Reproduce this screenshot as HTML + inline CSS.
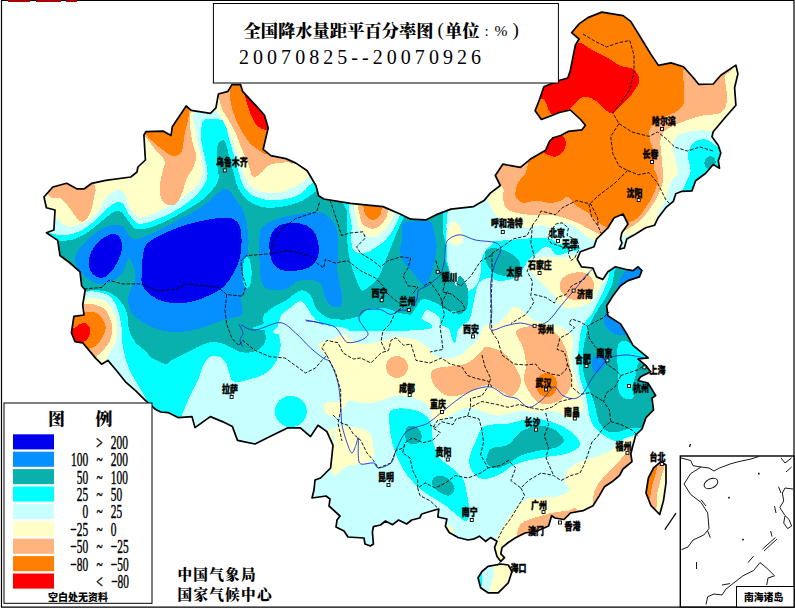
<!DOCTYPE html>
<html><head><meta charset="utf-8"><title>全国降水量距平百分率图</title>
<style>
html,body{margin:0;padding:0;background:#fff}
body{width:795px;height:610px;overflow:hidden;position:relative}
svg{position:absolute;left:0;top:0;display:block}
text{font-family:"Liberation Serif","Noto Serif CJK SC",serif;fill:#000}
.city{font-size:8.8px;font-weight:900;font-family:"Liberation Sans","Noto Sans CJK SC",sans-serif;stroke:#000;stroke-width:.35px}
.t1{font-size:17.3px;font-weight:900}
.t2{font-size:20px}
.lg{font-size:19px;stroke:#000;stroke-width:.45px}
.org{font-size:14.6px;font-weight:900}
</style></head><body>
<svg width="795" height="610" viewBox="0 0 795 610">
<rect x="0" y="0" width="795" height="610" fill="#fff"/>
<defs><clipPath id="cn"><path d="M44.0,197.0 L52.8,187.0 L66.7,183.3 L76.7,188.8 L84.3,188.8 L91.8,183.3 L105.7,180.3 L130.8,177.0 L137.0,172.0 L137.9,167.0 L145.4,160.0 L143.9,135.0 L145.9,131.7 L163.5,131.2 L171.0,135.5 L172.3,126.7 L186.2,106.0 L191.2,110.3 L210.4,113.3 L215.9,107.8 L218.4,94.0 L228.0,91.4 L231.8,84.7 L240.6,84.7 L242.6,91.4 L255.7,105.3 L264.5,115.3 L268.2,127.9 L263.2,149.3 L270.8,155.6 L285.8,158.6 L295.9,163.1 L307.2,170.7 L316.0,185.8 L318.6,195.8 L323.9,199.0 L350.3,203.3 L383.0,206.6 L400.6,214.2 L410.7,219.2 L425.8,219.9 L435.8,214.9 L450.9,209.1 L473.6,206.6 L484.0,200.6 L490.3,193.1 L500.3,185.5 L495.3,175.5 L502.8,164.2 L520.4,167.4 L530.5,159.1 L545.6,150.3 L549.4,141.5 L553.1,137.7 L560.7,135.5 L568.2,131.4 L582.0,129.8 L585.4,125.2 L580.6,119.5 L570.3,110.0 L559.4,112.5 L548.0,117.0 L541.4,119.5 L535.1,110.7 L539.3,100.0 L543.9,86.8 L559.0,80.5 L567.8,78.0 L570.3,70.4 L575.3,45.3 L579.1,39.0 L571.6,32.7 L579.1,23.9 L587.9,17.6 L601.8,12.1 L623.1,15.6 L630.7,21.4 L640.8,37.7 L650.8,54.1 L658.4,65.4 L671.0,62.9 L683.5,66.7 L693.6,78.0 L698.6,84.3 L713.2,84.0 L720.8,75.2 L735.9,65.1 L737.9,73.9 L734.6,87.7 L735.9,105.3 L725.8,116.7 L713.2,131.8 L712.0,136.8 L718.3,145.6 L720.8,153.1 L718.3,160.7 L719.5,168.2 L713.2,164.5 L705.7,173.3 L695.6,180.8 L691.9,190.9 L682.0,191.3 L675.8,193.8 L673.3,201.4 L665.8,207.7 L658.2,217.7 L654.5,225.3 L645.7,227.8 L635.6,234.0 L626.8,239.0 L624.3,248.0 L619.2,249.2 L622.0,243.0 L620.5,239.0 L621.8,232.8 L628.0,224.0 L623.0,214.0 L614.2,217.7 L607.9,227.8 L596.6,239.0 L594.0,246.7 L580.3,251.7 L577.2,259.2 L581.5,266.8 L592.8,268.0 L596.6,276.9 L602.9,279.4 L607.9,271.8 L615.5,266.8 L625.5,269.3 L633.0,270.6 L638.1,266.8 L641.9,270.6 L639.4,276.9 L628.0,280.6 L620.5,285.7 L613.0,295.7 L606.7,305.8 L607.9,315.8 L620.5,323.9 L626.8,334.0 L633.0,345.3 L640.6,351.6 L648.2,357.9 L638.0,359.0 L645.7,365.4 L650.7,371.7 L640.6,376.7 L638.0,380.5 L648.0,383.0 L655.7,395.6 L652.0,398.0 L653.5,410.0 L646.0,417.6 L642.0,429.0 L635.8,435.0 L633.0,445.0 L630.8,454.0 L632.0,461.6 L623.0,469.0 L619.5,475.5 L612.0,481.8 L604.4,486.8 L599.4,495.6 L593.0,505.7 L583.0,510.7 L570.4,513.0 L564.0,519.5 L555.0,518.0 L551.6,515.7 L548.6,526.0 L537.7,530.8 L525.0,533.0 L515.0,538.0 L508.3,542.5 L502.0,547.6 L500.8,553.9 L504.5,557.6 L500.8,561.4 L497.0,556.4 L494.5,547.6 L497.0,541.3 L490.7,537.5 L485.7,541.3 L479.4,536.2 L474.3,538.8 L468.0,540.0 L458.0,537.5 L449.2,532.5 L445.4,526.2 L446.9,519.0 L437.8,517.0 L438.8,509.0 L434.8,510.0 L421.7,514.0 L419.7,518.0 L411.7,520.0 L406.6,524.0 L398.6,520.0 L392.6,524.7 L385.5,521.0 L380.5,525.0 L373.4,526.7 L372.4,532.0 L373.4,544.0 L370.4,546.0 L365.0,544.0 L364.0,538.0 L348.0,537.0 L344.0,531.0 L336.0,527.0 L337.0,520.0 L340.0,516.0 L329.0,506.0 L330.0,499.0 L326.0,496.0 L312.0,498.0 L314.0,490.0 L315.0,480.0 L320.6,478.0 L330.6,468.0 L333.0,445.4 L326.9,431.6 L318.0,425.3 L310.5,436.6 L300.4,427.8 L287.9,427.8 L270.0,436.6 L255.0,444.0 L237.5,440.4 L232.4,426.6 L222.4,421.6 L210.3,416.6 L195.0,427.6 L192.0,416.6 L178.0,417.6 L168.0,412.6 L160.7,412.0 L155.7,409.5 L145.6,400.7 L135.5,390.6 L125.5,381.8 L115.4,369.2 L107.9,360.4 L101.6,364.2 L95.3,357.9 L82.7,342.8 L75.0,341.6 L71.4,332.8 L73.9,316.4 L84.0,315.0 L82.7,305.0 L85.2,290.0 L81.6,285.7 L80.0,271.8 L70.0,263.0 L60.0,255.5 L57.7,240.4 L46.4,232.8 L53.9,230.0 L55.0,210.0 L46.4,207.7Z"/><path d="M661.0,461.6 L666.0,465.0 L666.0,483.0 L663.5,500.6 L659.7,514.5 L651.0,505.7 L646.0,493.0 L648.4,478.0 L653.5,468.0Z"/><path d="M488.0,566.4 L500.8,564.0 L508.3,565.0 L512.0,571.5 L508.3,582.8 L498.2,592.8 L488.0,592.8 L480.6,587.8 L478.0,577.8 L482.0,571.5Z"/></clipPath></defs>
<g clip-path="url(#cn)" shape-rendering="crispEdges">
<rect x="0" y="0" width="795" height="610" fill="#c8ffff"/>
<path d="M36.0,228.0 C38.9,223.0 43.6,230.8 47.4,232.0 C51.2,233.2 54.7,234.7 59.0,235.0 C63.3,235.3 68.6,235.0 73.4,233.6 C78.2,232.2 83.1,229.8 87.9,226.4 C92.7,223.0 98.0,217.2 102.3,213.4 C106.6,209.6 110.5,205.0 113.9,203.3 C117.3,201.6 120.2,201.6 122.6,203.3 C125.0,205.0 125.8,210.0 128.4,213.4 C131.1,216.8 133.7,222.5 138.5,223.5 C143.3,224.5 150.3,221.8 157.3,219.2 C164.3,216.5 173.9,211.6 180.4,207.6 C186.9,203.6 192.4,199.1 196.5,195.0 C200.6,190.9 203.2,186.8 205.1,183.2 C206.9,179.6 207.6,177.5 207.6,173.4 C207.6,169.3 206.1,164.0 205.1,158.7 C204.1,153.4 202.1,146.8 201.5,141.5 C200.9,136.2 201.2,130.1 201.5,126.7 C201.8,123.3 202.0,122.3 203.0,121.0 C204.0,119.7 205.4,119.3 207.6,119.0 C209.8,118.7 213.1,118.8 216.0,119.3 C218.9,119.8 222.7,118.9 224.8,121.8 C226.9,124.7 227.1,131.2 228.5,136.5 C229.9,141.8 231.8,147.9 233.4,153.7 C235.0,159.4 236.7,165.7 238.3,171.0 C239.9,176.3 240.8,181.6 243.2,185.7 C245.6,189.8 248.1,193.0 253.0,195.5 C257.9,198.0 265.3,200.5 272.7,200.5 C280.1,200.5 290.8,198.4 297.3,195.5 C303.9,192.6 307.9,186.4 312.0,183.2 C316.1,179.9 315.7,174.9 322.0,176.0 C328.3,177.1 337.0,186.0 350.0,190.0 C363.0,194.0 387.5,197.0 400.0,200.0 C412.5,203.0 417.2,208.0 425.0,208.0 C432.8,208.0 443.3,198.4 447.0,200.0 C450.7,201.6 446.9,211.9 447.0,217.7 C447.1,223.5 447.5,229.8 447.8,235.0 C448.1,240.2 447.0,247.3 449.0,249.0 C451.0,250.7 454.2,246.2 460.0,245.0 C465.8,243.8 475.7,242.8 484.0,242.0 C492.3,241.2 501.2,240.7 510.0,240.0 C518.8,239.3 529.8,238.2 536.5,238.0 C543.2,237.8 546.8,238.0 550.5,239.0 C554.2,240.0 554.9,243.0 558.6,244.0 C562.3,245.0 569.1,244.5 572.7,245.0 C576.3,245.5 579.0,246.2 580.0,247.0 C581.0,247.8 580.6,249.2 578.7,250.0 C576.8,250.8 572.4,251.2 568.7,252.0 C565.0,252.8 559.6,255.7 556.6,255.0 C553.6,254.3 552.5,249.3 550.5,248.0 C548.5,246.7 546.5,246.3 544.5,247.0 C542.5,247.7 541.2,249.8 538.5,252.0 C535.8,254.2 531.1,257.0 528.4,260.0 C525.7,263.0 524.8,267.0 522.4,270.0 C520.0,273.0 518.0,276.2 514.3,278.0 C510.6,279.8 504.4,281.0 500.0,281.0 C495.6,281.0 491.3,277.8 488.0,278.0 C484.7,278.2 481.9,280.3 480.0,282.0 C478.1,283.7 478.0,284.2 476.8,288.3 C475.6,292.4 474.1,301.0 472.8,306.4 C471.5,311.8 471.2,316.8 468.8,320.5 C466.4,324.2 460.9,325.0 458.7,328.5 C456.5,332.0 456.7,339.6 455.7,341.6 C454.7,343.6 453.9,342.8 452.7,340.6 C451.5,338.4 450.6,331.2 448.6,328.5 C446.6,325.8 442.3,326.5 440.6,324.5 C438.9,322.5 440.6,318.9 438.6,316.5 C436.6,314.1 430.9,311.1 428.5,310.4 C426.1,309.7 426.5,310.0 424.5,312.4 C422.5,314.8 420.6,321.8 416.5,324.5 C412.4,327.2 406.1,327.7 400.0,328.5 C393.9,329.3 386.7,329.5 380.0,329.5 C373.3,329.5 366.7,328.7 360.0,328.5 C353.3,328.3 347.0,329.5 340.0,328.5 C333.0,327.5 322.9,325.3 318.0,322.7 C313.1,320.1 313.0,315.8 310.5,312.6 C308.0,309.5 305.9,304.6 303.0,303.8 C300.1,303.0 297.2,304.5 293.0,307.6 C288.8,310.8 279.9,316.3 277.8,322.7 C275.8,329.1 281.2,339.1 280.7,346.0 C280.2,352.9 277.4,359.3 274.7,364.0 C272.0,368.7 268.6,371.5 264.6,374.0 C260.6,376.5 255.5,377.7 250.5,379.0 C245.5,380.3 237.9,382.8 234.4,382.0 C230.9,381.2 230.7,377.0 229.4,374.0 C228.1,371.0 228.0,366.8 226.4,364.0 C224.8,361.2 222.7,358.2 220.0,357.0 C217.3,355.8 212.8,355.5 210.0,357.0 C207.2,358.5 205.0,362.2 203.0,366.0 C201.0,369.8 200.5,374.2 198.0,380.0 C195.5,385.8 190.7,394.7 188.0,400.5 C185.3,406.3 184.2,409.7 182.0,414.6 C179.8,419.5 180.3,429.1 175.0,430.0 C169.7,430.9 155.8,424.3 150.0,420.0 C144.2,415.7 140.7,407.7 140.0,404.0 C139.3,400.3 147.2,403.2 145.6,398.0 C144.0,392.8 134.3,381.4 130.5,373.0 C126.7,364.6 124.5,355.4 123.0,347.9 C121.5,340.3 122.5,334.0 121.7,327.7 C120.9,321.4 119.5,314.6 118.0,310.0 C116.5,305.4 114.7,302.5 113.0,300.0 C111.3,297.5 110.1,296.2 107.9,295.0 C105.7,293.8 103.0,293.2 100.0,292.5 C97.0,291.8 93.7,291.4 90.0,291.0 C86.3,290.6 88.0,294.8 78.0,290.0 C68.0,285.2 37.0,272.3 30.0,262.0 C23.0,251.7 33.1,233.0 36.0,228.0Z" fill="#00ffff"/>
<path d="M40.0,240.0 C43.2,237.7 53.4,241.0 59.0,240.9 C64.6,240.8 68.6,240.9 73.4,239.4 C78.2,237.9 83.1,235.3 87.9,232.2 C92.7,229.1 98.0,224.0 102.3,220.6 C106.6,217.2 110.8,213.4 113.9,212.0 C117.0,210.6 118.6,210.6 121.0,212.0 C123.4,213.4 125.7,217.7 128.4,220.6 C131.1,223.5 132.2,228.6 137.0,229.3 C141.8,230.0 150.1,227.7 157.3,225.0 C164.5,222.3 173.0,217.5 180.4,213.4 C187.8,209.3 195.9,204.7 201.5,200.5 C207.1,196.3 210.8,191.9 213.7,188.2 C216.6,184.5 218.1,182.0 218.7,178.3 C219.3,174.6 217.6,171.3 217.4,166.0 C217.2,160.7 216.6,150.7 217.4,146.4 C218.2,142.1 220.9,140.6 222.3,140.2 C223.7,139.8 224.8,140.8 226.0,143.9 C227.2,147.0 228.3,153.4 229.7,158.7 C231.1,164.0 233.2,171.0 234.6,175.9 C236.0,180.8 236.0,184.1 238.3,188.2 C240.6,192.3 243.3,197.2 248.2,200.5 C253.1,203.8 259.6,207.4 267.8,207.8 C276.0,208.2 289.1,205.8 297.3,202.9 C305.5,200.0 312.6,193.8 317.0,190.6 C321.4,187.4 318.5,183.8 324.0,184.0 C329.5,184.2 337.3,189.0 350.0,192.0 C362.7,195.0 386.7,199.3 400.0,202.0 C413.3,204.7 422.8,208.0 430.0,208.0 C437.2,208.0 440.9,200.4 443.0,202.0 C445.1,203.6 442.7,212.2 442.8,217.7 C442.9,223.2 443.2,231.3 443.5,235.0 C443.8,238.7 444.2,235.8 444.6,240.0 C445.0,244.2 444.2,254.0 445.6,260.0 C447.0,266.0 449.5,271.7 452.7,276.0 C455.9,280.3 462.2,281.9 464.7,286.0 C467.2,290.1 468.5,296.5 467.8,300.4 C467.1,304.3 463.9,307.7 460.7,309.4 C457.5,311.1 452.3,311.2 448.6,310.4 C444.9,309.6 442.3,306.2 438.6,304.4 C434.9,302.6 429.5,300.1 426.5,299.4 C423.5,298.7 422.3,298.9 420.5,300.4 C418.7,301.9 417.5,305.5 415.5,308.4 C413.5,311.2 411.2,315.6 408.4,317.5 C405.5,319.4 402.1,319.8 398.4,319.5 C394.7,319.2 390.0,317.4 386.3,315.5 C382.6,313.6 379.4,309.2 376.0,308.4 C372.6,307.5 369.0,308.9 366.0,310.4 C363.0,311.9 362.3,316.0 358.0,317.5 C353.7,319.0 346.7,319.9 340.0,319.5 C333.3,319.1 323.3,318.2 318.0,315.0 C312.7,311.8 311.3,302.9 308.0,300.0 C304.7,297.1 302.7,296.7 298.0,297.5 C293.3,298.3 285.7,302.1 280.0,305.0 C274.3,307.9 266.6,311.2 264.0,315.0 C261.4,318.8 264.3,323.8 264.6,328.0 C264.9,332.2 266.3,336.7 265.6,340.0 C264.9,343.3 262.8,346.0 260.6,348.0 C258.4,350.0 255.9,351.3 252.6,352.0 C249.2,352.7 244.5,353.0 240.5,352.0 C236.5,351.0 232.5,347.7 228.4,346.0 C224.3,344.3 220.1,342.3 216.0,342.0 C211.9,341.7 208.7,342.3 204.0,344.0 C199.3,345.7 193.3,349.3 188.0,352.0 C182.7,354.7 175.7,358.0 172.0,360.0 C168.3,362.0 169.3,364.5 165.7,364.0 C162.1,363.5 153.8,359.0 150.6,357.0 C147.4,355.0 149.4,354.4 146.8,352.0 C144.2,349.6 138.3,346.1 135.3,342.3 C132.3,338.5 130.2,333.9 128.8,329.0 C127.4,324.1 128.4,317.4 127.0,312.8 C125.6,308.2 123.3,304.6 120.6,301.3 C117.9,298.0 114.1,294.8 110.7,293.0 C107.3,291.2 103.5,290.9 100.0,290.5 C96.5,290.1 92.7,290.4 90.0,290.5 C87.3,290.6 87.7,291.4 84.0,291.0 C80.3,290.6 75.3,294.0 68.0,288.0 C60.7,282.0 44.7,263.0 40.0,255.0 C35.3,247.0 36.8,242.3 40.0,240.0Z" fill="#08b0ae"/>
<path d="M75.0,260.4 C74.8,258.0 75.1,256.4 76.3,253.9 C77.5,251.4 78.6,248.8 82.0,245.2 C85.4,241.6 91.7,235.6 96.5,232.2 C101.3,228.8 106.7,226.0 111.0,225.0 C115.3,224.0 119.5,224.5 122.6,226.4 C125.7,228.3 127.4,234.3 129.8,236.5 C132.2,238.7 133.4,239.9 137.0,239.4 C140.6,238.9 145.2,236.5 151.5,233.6 C157.8,230.7 166.4,226.3 174.6,222.0 C182.8,217.7 193.5,212.4 200.7,207.6 C207.9,202.8 213.9,196.1 218.0,193.0 C222.1,189.9 222.9,188.5 225.3,188.8 C227.7,189.1 229.4,190.5 232.5,194.6 C235.6,198.7 241.3,206.4 244.0,213.4 C246.7,220.4 247.8,227.8 248.4,236.5 C249.0,245.2 247.8,256.5 247.4,265.5 C247.0,274.5 247.1,285.6 246.0,290.6 C244.9,295.6 241.6,291.9 241.0,295.7 C240.4,299.5 243.2,309.8 242.4,313.3 C241.6,316.9 239.6,315.8 236.0,317.0 C232.4,318.2 225.6,319.3 221.0,320.8 C216.4,322.3 213.4,324.1 208.4,325.8 C203.4,327.5 197.1,329.9 190.8,330.9 C184.5,331.9 176.6,332.4 170.7,332.0 C164.8,331.6 160.6,330.3 155.6,328.4 C150.6,326.5 144.5,323.3 140.5,320.8 C136.5,318.3 133.8,316.7 131.7,313.3 C129.6,309.9 128.1,304.5 127.9,300.7 C127.7,296.9 129.1,294.4 130.4,290.6 C131.7,286.8 135.1,282.2 135.5,278.0 C135.9,273.8 134.1,268.7 133.0,265.5 C131.9,262.3 130.3,259.0 129.0,259.0 C127.7,259.0 126.4,263.2 125.4,265.5 C124.4,267.8 125.0,270.5 122.9,273.0 C120.8,275.5 116.2,278.7 112.8,280.6 C109.4,282.5 106.1,284.1 102.8,284.3 C99.5,284.5 95.8,283.3 92.7,281.8 C89.6,280.3 86.4,277.8 83.9,275.5 C81.4,273.2 79.1,270.5 77.6,268.0 C76.1,265.5 75.2,262.8 75.0,260.4Z" fill="#0690ff"/>
<path d="M259.5,234.3 C260.1,228.7 260.8,228.9 263.4,226.5 C266.0,224.1 269.9,221.6 275.2,219.6 C280.5,217.6 288.1,216.0 295.0,214.7 C301.9,213.4 311.0,211.4 316.6,211.7 C322.2,212.0 325.0,213.5 328.4,216.6 C331.8,219.7 335.6,224.2 337.2,230.4 C338.8,236.6 338.2,247.4 338.2,254.0 C338.2,260.6 337.0,265.2 337.2,269.8 C337.4,274.4 338.4,277.0 339.2,281.6 C340.0,286.2 341.9,293.1 342.0,297.3 C342.1,301.5 341.9,305.7 340.0,307.0 C338.1,308.3 333.0,306.9 330.4,305.0 C327.8,303.1 326.0,298.9 324.4,295.3 C322.8,291.7 323.1,286.1 320.5,283.5 C317.9,280.9 312.6,279.9 308.7,279.6 C304.8,279.3 300.9,280.0 297.0,281.6 C293.1,283.2 289.6,288.1 285.0,289.4 C280.4,290.7 273.2,290.7 269.3,289.4 C265.4,288.1 263.1,286.5 261.5,281.6 C259.9,276.7 259.8,267.9 259.5,260.0 C259.2,252.1 258.9,239.9 259.5,234.3Z" fill="#0690ff"/>
<path d="M400.0,250.0 C399.9,246.7 401.7,244.2 402.0,240.0 C402.3,235.8 401.5,228.0 402.0,225.0 C402.5,222.0 401.6,222.8 405.0,222.0 C408.4,221.2 418.2,220.4 422.6,220.5 C427.0,220.6 429.3,220.3 431.4,222.7 C433.5,225.1 434.1,231.3 435.0,235.0 C435.9,238.7 436.5,241.8 436.6,245.0 C436.7,248.2 436.3,249.8 435.6,254.0 C434.9,258.2 433.8,265.7 432.6,270.0 C431.4,274.3 429.9,277.5 428.5,280.0 C427.1,282.5 426.2,285.0 424.5,285.0 C422.8,285.0 420.9,282.5 418.5,280.0 C416.1,277.5 413.1,273.3 410.4,270.0 C407.7,266.7 404.1,263.3 402.4,260.0 C400.7,256.7 400.1,253.3 400.0,250.0Z" fill="#0690ff"/>
<path d="M141.8,273.0 C142.0,268.4 142.2,260.2 143.0,255.4 C143.8,250.6 143.9,247.3 146.8,244.0 C149.7,240.7 154.9,238.2 160.6,235.3 C166.3,232.4 173.2,229.1 180.8,226.5 C188.4,223.9 198.9,221.5 206.0,220.0 C213.1,218.5 218.9,217.9 223.5,217.7 C228.1,217.5 230.9,217.5 233.6,219.0 C236.3,220.5 238.6,222.9 239.9,226.5 C241.2,230.1 241.6,235.1 241.6,240.3 C241.6,245.6 241.2,252.6 239.9,258.0 C238.6,263.4 236.3,268.2 233.6,273.0 C230.9,277.8 227.7,283.1 223.5,286.9 C219.3,290.7 213.8,293.2 208.4,295.7 C203.0,298.2 196.7,300.8 190.8,302.0 C184.9,303.2 178.7,303.6 173.2,303.2 C167.7,302.8 162.4,301.3 158.0,299.4 C153.6,297.5 149.5,294.6 146.8,291.9 C144.1,289.2 142.6,286.1 141.8,283.0 C141.0,279.9 141.6,277.6 141.8,273.0Z" fill="#0000ee"/>
<path d="M88.9,261.7 C89.1,258.6 89.5,255.2 91.4,251.6 C93.3,248.0 96.9,243.2 100.3,240.3 C103.7,237.4 108.5,234.6 111.6,234.0 C114.7,233.4 117.3,234.8 119.0,236.5 C120.7,238.2 121.8,240.8 122.0,244.0 C122.2,247.2 121.7,251.4 120.4,255.4 C119.1,259.4 116.5,264.4 114.0,268.0 C111.5,271.6 108.2,275.3 105.3,276.8 C102.4,278.3 99.0,277.9 96.5,276.8 C94.0,275.8 91.5,273.0 90.2,270.5 C88.9,268.0 88.7,264.8 88.9,261.7Z" fill="#0000ee"/>
<path d="M269.3,246.0 C269.1,241.4 269.7,237.7 271.3,234.3 C272.9,230.9 275.4,227.4 279.0,225.5 C282.6,223.6 288.4,223.0 293.0,223.0 C297.6,223.0 302.9,223.6 306.7,225.5 C310.5,227.4 313.6,230.6 315.6,234.3 C317.7,238.1 318.8,243.7 319.0,248.0 C319.2,252.3 318.3,256.7 316.6,260.0 C314.9,263.3 312.3,266.0 308.7,267.8 C305.1,269.6 299.6,270.4 295.0,270.7 C290.4,271.0 284.8,271.3 281.0,269.8 C277.2,268.3 274.2,265.9 272.3,261.9 C270.4,257.9 269.5,250.6 269.3,246.0Z" fill="#0000ee"/>
<path d="M244.0,260.0 C245.0,256.3 247.8,256.3 249.0,258.0 C250.2,259.7 251.2,265.7 251.5,270.0 C251.8,274.3 251.4,281.0 250.5,284.0 C249.6,287.0 247.2,288.7 246.0,288.0 C244.8,287.3 243.3,284.7 243.0,280.0 C242.7,275.3 243.0,263.7 244.0,260.0Z" fill="#00ffff"/>
<path d="M347.0,198.0 C337.5,200.3 347.0,207.3 347.0,212.0 C347.0,216.7 346.8,219.7 347.0,226.0 C347.2,232.3 347.1,242.4 348.0,249.6 C348.9,256.8 350.6,263.1 352.5,269.4 C354.4,275.7 357.9,284.0 359.7,287.5 C361.5,291.0 361.2,291.1 363.3,290.5 C365.4,289.9 369.6,286.5 372.3,283.9 C375.0,281.3 376.9,279.9 379.6,274.8 C382.3,269.7 385.9,259.6 388.6,253.0 C391.3,246.4 393.6,240.4 395.8,235.0 C398.0,229.6 400.3,224.5 402.0,220.7 C403.7,216.9 405.7,215.8 406.0,212.0 C406.3,208.2 413.8,200.3 404.0,198.0 C394.2,195.7 356.5,195.7 347.0,198.0Z" fill="#00ffff"/>
<path d="M352.5,198.0 C344.6,202.7 351.8,218.3 351.6,226.0 C351.5,233.7 351.0,239.8 351.6,244.0 C352.2,248.2 353.1,249.8 355.0,251.4 C356.9,253.0 360.4,253.8 363.3,253.5 C366.2,253.2 369.0,251.5 372.3,249.6 C375.6,247.7 379.7,245.3 383.0,242.3 C386.3,239.3 389.6,235.1 392.0,231.5 C394.4,227.9 396.2,223.9 397.6,220.7 C399.0,217.4 400.3,215.8 400.5,212.0 C400.7,208.2 407.0,200.3 399.0,198.0 C391.0,195.7 360.4,193.3 352.5,198.0Z" fill="#c8ffff"/>
<path d="M357.0,198.0 C351.0,202.1 356.2,216.9 357.0,222.5 C357.8,228.1 359.6,229.1 361.5,231.5 C363.4,233.9 366.0,236.2 368.7,237.0 C371.4,237.8 374.8,237.5 377.8,236.0 C380.8,234.5 384.4,230.8 386.8,228.0 C389.2,225.2 390.7,221.7 392.0,218.9 C393.3,216.1 394.3,214.5 394.5,211.0 C394.7,207.5 399.2,200.2 393.0,198.0 C386.8,195.8 363.0,193.9 357.0,198.0Z" fill="#ffffc8"/>
<path d="M359.7,198.0 C355.3,201.5 359.7,214.2 360.6,218.9 C361.5,223.6 363.1,224.3 365.0,226.0 C366.9,227.7 369.9,228.8 372.3,228.8 C374.7,228.8 377.5,227.5 379.6,226.0 C381.7,224.5 383.6,222.0 385.0,219.8 C386.4,217.6 387.4,216.2 387.7,212.6 C388.0,209.0 391.7,200.4 387.0,198.0 C382.3,195.6 364.1,194.5 359.7,198.0Z" fill="#ffb47d"/>
<path d="M364.2,198.0 C361.5,200.6 364.1,210.0 365.0,213.5 C365.9,217.0 367.9,217.8 369.6,218.9 C371.3,220.0 373.3,220.3 375.0,219.8 C376.7,219.3 378.5,217.5 379.6,216.0 C380.7,214.5 381.2,213.8 381.4,210.8 C381.6,207.8 383.9,200.1 381.0,198.0 C378.1,195.9 366.9,195.4 364.2,198.0Z" fill="#ff8000"/>
<path d="M264.0,323.0 C264.7,319.8 264.4,314.5 268.0,310.8 C271.6,307.1 280.1,304.1 285.5,300.7 C290.9,297.3 296.4,291.4 300.6,290.6 C304.8,289.8 307.8,292.3 310.7,295.7 C313.6,299.1 313.8,306.6 318.0,310.8 C322.2,315.0 328.6,320.0 335.8,320.8 C343.0,321.6 353.5,317.9 361.0,315.8 C368.5,313.7 374.5,308.5 381.0,308.0 C387.5,307.5 393.5,311.3 400.0,313.0 C406.5,314.7 416.7,315.2 420.0,318.0 C423.3,320.8 446.0,328.0 420.0,330.0 C394.0,332.0 290.0,331.2 264.0,330.0 C238.0,328.8 263.3,326.2 264.0,323.0Z" fill="#00ffff"/>
<path d="M278.0,326.0 C278.5,323.0 279.0,319.0 281.0,316.0 C283.0,313.0 286.7,310.5 290.0,308.0 C293.3,305.5 297.6,300.8 300.6,301.0 C303.6,301.2 305.4,305.8 308.0,309.0 C310.6,312.2 312.3,317.2 316.0,320.0 C319.7,322.8 325.2,324.7 330.0,326.0 C334.8,327.3 342.5,326.7 345.0,328.0 C347.5,329.3 356.2,333.0 345.0,334.0 C333.8,335.0 289.2,335.3 278.0,334.0 C266.8,332.7 277.5,329.0 278.0,326.0Z" fill="#c8ffff"/>
<path d="M36.0,205.0 C37.0,209.6 42.6,205.5 45.9,207.6 C49.2,209.7 52.4,214.6 56.0,217.7 C59.6,220.8 63.3,225.4 67.6,226.4 C71.9,227.4 77.2,225.7 82.0,223.5 C86.8,221.3 93.0,216.8 96.5,213.4 C100.0,210.0 101.1,205.9 103.0,203.0 C104.9,200.1 105.7,198.1 108.0,196.0 C110.3,193.9 114.1,190.7 116.8,190.2 C119.5,189.7 121.8,190.1 124.0,193.0 C126.2,195.9 127.1,203.5 129.8,207.6 C132.5,211.7 135.4,216.8 140.0,217.5 C144.6,218.2 151.0,214.8 157.3,212.0 C163.6,209.2 172.4,204.5 178.0,201.0 C183.6,197.5 187.5,194.0 191.0,191.0 C194.5,188.0 197.1,186.1 199.0,183.2 C200.9,180.3 202.3,177.5 202.7,173.4 C203.1,169.3 202.3,163.6 201.5,158.7 C200.7,153.8 198.8,148.8 197.8,143.9 C196.8,139.0 196.1,133.5 195.3,129.0 C194.5,124.5 193.5,121.1 192.9,116.9 C192.3,112.7 200.8,103.5 192.0,104.0 C183.2,104.5 165.3,107.3 140.0,120.0 C114.7,132.7 57.3,165.8 40.0,180.0 C22.7,194.2 35.0,200.4 36.0,205.0Z" fill="#ffffc8"/>
<path d="M50.0,197.0 C52.4,199.1 57.4,196.9 60.4,198.4 C63.4,199.9 65.9,203.6 68.0,206.0 C70.1,208.4 71.0,210.5 73.0,213.0 C75.0,215.5 77.8,219.8 80.0,221.0 C82.2,222.2 84.1,221.8 86.0,220.0 C87.9,218.2 90.1,213.8 91.4,210.0 C92.7,206.2 93.3,200.8 94.0,197.5 C94.7,194.2 95.5,192.2 95.6,190.0 C95.6,187.8 94.9,186.8 94.3,184.5 C93.7,182.2 96.7,177.4 92.0,176.0 C87.3,174.6 73.7,174.3 66.0,176.0 C58.3,177.7 48.7,182.5 46.0,186.0 C43.3,189.5 47.6,194.9 50.0,197.0Z" fill="#ffb47d"/>
<path d="M143.0,134.0 C144.2,136.5 145.5,136.5 147.4,139.0 C149.3,141.5 151.8,145.1 154.7,148.8 C157.6,152.5 163.4,156.9 164.6,161.0 C165.8,165.1 162.8,168.9 162.0,173.4 C161.2,177.9 159.7,183.7 159.7,188.2 C159.7,192.7 160.4,197.6 162.0,200.5 C163.6,203.4 167.0,205.0 169.5,205.4 C172.0,205.8 174.7,205.4 176.9,202.9 C179.2,200.4 181.4,194.7 183.0,190.6 C184.6,186.5 185.0,182.0 186.7,178.3 C188.3,174.6 191.3,172.2 192.9,168.5 C194.5,164.8 196.5,160.3 196.5,156.2 C196.5,152.1 193.9,148.4 192.9,143.9 C191.9,139.4 190.8,133.9 190.4,129.0 C190.0,124.1 190.5,119.2 190.4,114.4 C190.3,109.6 198.4,98.4 190.0,100.0 C181.6,101.6 147.8,118.3 140.0,124.0 C132.2,129.7 141.8,131.5 143.0,134.0Z" fill="#ffb47d"/>
<path d="M142.0,130.0 C142.0,131.5 143.7,131.4 145.0,132.9 C146.3,134.4 146.5,135.9 149.8,139.0 C153.1,142.1 160.5,148.4 164.6,151.3 C168.7,154.2 171.5,156.2 174.4,156.2 C177.3,156.2 180.2,154.6 181.8,151.3 C183.4,148.0 183.2,141.8 184.2,136.5 C185.2,131.2 187.2,123.8 188.0,119.3 C188.8,114.8 189.5,113.0 189.2,109.5 C188.9,106.0 189.2,96.6 186.0,98.0 C182.8,99.4 174.3,113.7 170.0,118.0 C165.7,122.3 164.2,123.0 160.0,124.0 C155.8,125.0 148.0,123.0 145.0,124.0 C142.0,125.0 142.0,128.5 142.0,130.0Z" fill="#ff8000"/>
<path d="M213.0,104.0 C208.8,110.6 213.7,107.3 215.0,109.5 C216.3,111.7 219.2,114.0 221.0,116.9 C222.8,119.8 224.1,123.0 226.0,126.7 C227.9,130.4 230.4,134.5 232.2,139.0 C234.0,143.5 235.4,148.8 237.0,153.7 C238.6,158.6 240.1,163.6 242.0,168.5 C243.9,173.4 245.5,179.5 248.2,183.2 C250.9,186.9 253.1,189.0 258.0,190.6 C262.9,192.2 271.1,193.8 277.7,193.0 C284.2,192.2 292.0,188.5 297.3,185.7 C302.6,182.8 306.5,178.8 309.6,175.9 C312.7,173.0 315.9,171.5 316.0,168.0 C316.1,164.5 317.7,163.0 310.0,155.0 C302.3,147.0 281.7,134.2 270.0,120.0 C258.3,105.8 249.5,72.7 240.0,70.0 C230.5,67.3 217.2,97.4 213.0,104.0Z" fill="#ffffc8"/>
<path d="M217.0,92.0 C211.8,94.9 217.8,94.3 218.7,97.2 C219.6,100.1 220.5,105.4 222.3,109.5 C224.1,113.6 227.4,117.7 229.7,121.8 C232.0,125.9 234.1,129.9 235.9,134.0 C237.8,138.1 238.8,141.5 240.8,146.4 C242.9,151.3 246.2,158.5 248.2,163.6 C250.2,168.7 250.9,175.4 253.0,177.0 C255.1,178.6 257.6,175.4 260.5,173.4 C263.4,171.4 265.8,166.7 270.3,164.8 C274.8,163.0 283.8,162.5 287.5,162.3 C291.2,162.1 290.3,164.3 292.4,163.6 C294.5,162.9 302.1,161.9 300.0,158.0 C297.9,154.1 288.3,153.0 280.0,140.0 C271.7,127.0 260.5,88.0 250.0,80.0 C239.5,72.0 222.2,89.1 217.0,92.0Z" fill="#ffb47d"/>
<path d="M228.0,84.0 C225.4,86.0 229.2,86.4 229.7,89.8 C230.2,93.2 229.8,99.3 231.0,104.6 C232.2,109.9 235.0,116.9 237.0,121.8 C239.0,126.7 240.9,130.3 243.2,134.0 C245.5,137.7 247.7,141.0 250.6,143.9 C253.5,146.8 257.6,149.8 260.5,151.3 C263.4,152.8 265.4,156.6 268.0,153.0 C270.6,149.4 277.0,138.2 276.0,130.0 C275.0,121.8 267.2,112.7 262.0,104.0 C256.8,95.3 250.7,81.3 245.0,78.0 C239.3,74.7 230.6,82.0 228.0,84.0Z" fill="#ff8000"/>
<path d="M243.0,88.0 C242.8,89.8 243.6,91.5 244.5,94.7 C245.4,97.9 247.0,103.3 248.2,107.0 C249.4,110.7 250.2,113.6 251.8,116.9 C253.4,120.2 255.3,124.5 258.0,126.7 C260.7,128.9 265.1,130.2 267.8,130.4 C270.5,130.6 273.6,131.1 274.0,128.0 C274.4,124.9 273.0,117.3 270.0,112.0 C267.0,106.7 260.0,100.7 256.0,96.0 C252.0,91.3 248.2,85.3 246.0,84.0 C243.8,82.7 243.2,86.2 243.0,88.0Z" fill="#ff0000"/>
<path d="M78.0,296.4 C82.2,295.8 82.3,296.5 85.3,296.4 C88.3,296.3 92.3,295.3 96.0,295.6 C99.7,295.9 104.2,296.3 107.5,298.0 C110.8,299.7 113.7,302.7 115.7,306.0 C117.8,309.3 118.8,313.0 119.8,317.7 C120.8,322.4 121.3,329.4 121.4,334.0 C121.5,338.6 119.9,341.5 120.6,345.6 C121.3,349.7 123.9,354.3 125.5,358.7 C127.1,363.1 128.0,366.2 130.4,371.8 C132.8,377.4 141.7,389.0 140.0,392.0 C138.3,395.0 131.7,397.0 120.0,390.0 C108.3,383.0 80.0,365.0 70.0,350.0 C60.0,335.0 58.7,308.9 60.0,300.0 C61.3,291.1 73.8,297.0 78.0,296.4Z" fill="#c8ffff"/>
<path d="M78.0,298.9 C81.8,297.9 81.8,299.0 84.5,298.9 C87.2,298.8 90.8,297.6 94.3,298.0 C97.8,298.4 102.8,299.4 105.8,301.3 C108.8,303.2 110.6,306.2 112.4,309.5 C114.2,312.8 115.7,316.9 116.5,321.0 C117.3,325.1 117.7,329.9 117.3,334.0 C116.9,338.1 115.4,342.3 114.0,345.6 C112.6,348.9 110.4,351.4 109.0,353.8 C107.6,356.2 107.3,358.3 105.8,360.3 C104.3,362.3 106.0,368.6 100.0,366.0 C94.0,363.4 76.3,355.2 70.0,345.0 C63.7,334.8 60.7,312.7 62.0,305.0 C63.3,297.3 74.2,299.9 78.0,298.9Z" fill="#ffffc8"/>
<path d="M78.0,303.8 C81.4,302.8 81.8,303.7 84.5,303.8 C87.2,303.9 91.0,303.8 94.3,304.6 C97.6,305.4 101.6,306.5 104.2,308.7 C106.8,310.9 108.7,314.3 110.0,317.7 C111.3,321.1 112.0,325.2 112.0,329.0 C112.0,332.8 111.3,337.4 110.0,340.7 C108.7,344.0 106.3,346.4 104.2,348.9 C102.1,351.3 99.6,353.9 97.6,355.4 C95.6,356.9 96.6,360.2 92.0,358.0 C87.4,355.8 74.7,350.0 70.0,342.0 C65.3,334.0 62.7,316.4 64.0,310.0 C65.3,303.6 74.6,304.8 78.0,303.8Z" fill="#ffb47d"/>
<path d="M78.0,312.0 C81.1,311.5 81.8,312.0 84.5,312.0 C87.2,312.0 91.4,311.1 94.3,312.0 C97.2,312.9 99.8,315.1 101.7,317.7 C103.6,320.3 105.7,324.2 105.8,327.5 C105.9,330.8 104.1,334.4 102.5,337.4 C100.9,340.4 98.2,343.7 96.0,345.6 C93.8,347.5 91.4,348.2 89.4,348.9 C87.4,349.6 87.2,351.5 84.0,350.0 C80.8,348.5 73.0,345.8 70.0,340.0 C67.0,334.2 64.7,319.7 66.0,315.0 C67.3,310.3 74.9,312.5 78.0,312.0Z" fill="#ff8000"/>
<path d="M70.0,330.0 C71.6,328.2 73.9,328.4 75.5,327.5 C77.1,326.6 77.8,325.0 79.6,324.3 C81.3,323.6 84.2,322.6 86.0,323.4 C87.8,324.2 89.6,327.1 90.2,329.2 C90.8,331.2 90.4,333.6 89.4,335.7 C88.5,337.8 86.4,340.4 84.5,341.5 C82.6,342.6 80.1,342.6 78.0,342.5 C75.9,342.4 74.0,341.8 72.0,341.0 C70.0,340.2 66.3,339.8 66.0,338.0 C65.7,336.2 68.4,331.8 70.0,330.0Z" fill="#ff0000"/>
<path d="M485.0,190.0 C486.6,198.8 487.5,198.4 489.3,202.6 C491.1,206.8 492.5,211.7 495.6,215.0 C498.7,218.3 503.0,220.6 508.0,222.7 C513.0,224.8 520.3,227.3 525.8,227.7 C531.3,228.1 536.8,225.0 541.0,225.0 C545.2,225.0 547.7,228.1 551.0,227.7 C554.3,227.3 556.8,222.7 561.0,222.7 C565.2,222.7 571.4,225.2 576.0,227.7 C580.6,230.2 584.7,235.8 588.7,237.8 C592.7,239.9 595.6,240.0 600.0,240.0 C604.4,240.0 608.3,239.3 615.0,238.0 C621.7,236.7 633.4,234.5 640.0,232.0 C646.6,229.5 651.5,226.0 654.5,222.8 C657.5,219.6 656.1,216.5 658.0,212.7 C659.9,208.9 663.7,205.1 665.8,200.0 C667.9,194.9 668.8,186.4 670.8,182.0 C672.8,177.6 677.2,176.9 678.0,173.3 C678.8,169.8 676.3,165.3 675.5,160.7 C674.7,156.1 672.6,149.8 673.0,145.6 C673.4,141.4 674.2,138.0 678.0,135.5 C681.8,133.0 689.8,131.3 695.6,130.5 C701.4,129.7 704.8,131.4 713.0,130.5 C721.2,129.6 737.2,138.4 745.0,125.0 C752.8,111.6 784.2,70.8 760.0,50.0 C735.8,29.2 640.0,-1.7 600.0,0.0 C560.0,1.7 540.0,35.0 520.0,60.0 C500.0,85.0 485.8,128.3 480.0,150.0 C474.2,171.7 483.4,181.2 485.0,190.0Z" fill="#ffffc8"/>
<path d="M490.0,172.0 C493.0,178.3 500.6,183.8 502.8,188.0 C505.0,192.2 502.1,193.8 503.0,197.5 C503.9,201.2 503.4,207.1 508.0,210.0 C512.6,212.9 523.6,214.2 530.8,215.0 C538.0,215.8 544.3,214.2 551.0,215.0 C557.7,215.8 564.3,217.5 571.0,220.0 C577.7,222.5 586.2,227.7 591.0,230.0 C595.8,232.3 596.0,233.3 600.0,234.0 C604.0,234.7 610.3,234.8 615.0,234.0 C619.7,233.2 623.7,231.3 628.0,229.0 C632.3,226.7 636.8,223.6 640.6,220.0 C644.4,216.4 647.8,211.9 650.7,207.7 C653.6,203.5 656.0,199.6 658.0,195.0 C660.0,190.4 662.4,186.1 663.0,180.0 C663.6,173.9 662.1,164.8 661.7,158.2 C661.3,151.6 659.8,145.2 660.4,140.6 C661.0,136.0 661.6,133.7 665.4,130.5 C669.2,127.3 676.7,124.2 683.0,121.7 C689.3,119.2 696.9,116.9 703.2,115.4 C709.5,113.9 716.8,115.4 720.8,112.9 C724.8,110.4 726.4,106.2 727.0,100.3 C727.6,94.4 725.4,84.4 724.6,77.7 C723.8,71.0 742.8,73.0 722.0,60.0 C701.2,47.0 633.7,0.0 600.0,0.0 C566.3,0.0 539.2,35.0 520.0,60.0 C500.8,85.0 490.0,131.3 485.0,150.0 C480.0,168.7 487.0,165.7 490.0,172.0Z" fill="#ffb47d"/>
<path d="M528.0,158.0 C528.9,161.8 527.2,168.8 525.5,173.0 C523.8,177.2 519.7,179.2 518.0,183.0 C516.3,186.8 514.6,192.3 515.4,195.6 C516.2,198.9 519.6,202.2 523.0,203.0 C526.4,203.8 530.9,200.6 535.5,200.6 C540.1,200.6 546.4,203.0 550.6,203.0 C554.8,203.0 557.8,201.6 560.7,200.6 C563.6,199.6 565.7,196.1 568.2,196.9 C570.7,197.8 572.4,203.0 575.8,205.7 C579.2,208.4 584.2,209.9 588.4,213.0 C592.6,216.1 597.1,222.0 601.0,224.5 C604.9,227.0 607.5,228.3 612.0,228.0 C616.5,227.7 623.7,224.5 628.0,222.8 C632.3,221.1 635.0,220.2 638.0,217.7 C641.0,215.2 643.2,211.5 645.7,207.7 C648.2,203.9 651.0,199.6 653.0,195.0 C655.0,190.4 657.8,184.5 658.0,180.0 C658.2,175.5 654.8,172.9 654.0,168.0 C653.2,163.1 653.8,156.8 653.0,150.6 C652.2,144.3 647.3,135.9 649.0,130.5 C650.7,125.1 658.2,121.3 663.0,118.0 C667.8,114.7 674.5,113.4 678.0,110.4 C681.5,107.5 683.5,106.6 684.3,100.3 C685.1,94.0 683.0,79.6 683.0,72.6 C683.0,65.5 691.2,68.4 684.0,58.0 C676.8,47.6 654.0,19.7 640.0,10.0 C626.0,0.3 613.3,-1.7 600.0,0.0 C586.7,1.7 573.3,3.3 560.0,20.0 C546.7,36.7 526.7,78.3 520.0,100.0 C513.3,121.7 518.7,140.3 520.0,150.0 C521.3,159.7 527.1,154.2 528.0,158.0Z" fill="#ff8000"/>
<path d="M538.0,88.0 C541.5,85.0 554.0,81.0 559.0,79.0 C564.0,77.0 565.9,77.4 567.8,76.0 C569.7,74.6 569.3,74.7 570.3,70.4 C571.3,66.1 572.4,54.6 574.0,50.0 C575.6,45.4 577.0,43.0 580.0,43.0 C583.0,43.0 587.8,47.7 592.0,50.0 C596.2,52.3 600.7,54.0 605.5,56.6 C610.3,59.2 616.0,63.8 620.6,65.9 C625.2,68.0 630.1,66.8 633.2,69.2 C636.4,71.6 639.9,76.1 639.5,80.5 C639.1,84.9 633.9,91.4 630.7,95.6 C627.6,99.8 624.0,102.8 620.6,105.7 C617.2,108.6 614.8,114.1 610.6,113.2 C606.4,112.3 600.1,103.3 595.5,100.6 C590.9,97.9 587.1,95.6 582.9,96.9 C578.7,98.2 574.9,105.3 570.3,108.2 C565.6,111.1 558.5,114.1 555.0,114.5 C551.5,114.9 550.7,113.0 549.0,110.7 C547.3,108.4 546.8,102.9 545.0,100.6 C543.2,98.3 539.2,99.1 538.0,97.0 C536.8,94.9 534.5,91.0 538.0,88.0Z" fill="#ff0000"/>
<path d="M543.0,151.0 C543.0,148.7 547.7,143.8 549.4,141.5 C551.1,139.2 551.1,138.0 553.0,137.0 C554.9,136.0 558.8,135.4 560.7,135.5 C562.6,135.6 563.7,136.1 564.5,137.7 C565.3,139.3 566.1,142.8 565.7,145.3 C565.3,147.8 563.7,150.9 562.0,152.8 C560.3,154.7 557.8,156.2 555.7,156.6 C553.6,157.0 551.5,156.2 549.4,155.3 C547.3,154.4 543.0,153.3 543.0,151.0Z" fill="#ff0000"/>
<path d="M725.0,147.0 C723.0,143.2 721.2,148.2 718.0,146.9 C714.8,145.6 709.9,140.0 705.7,139.3 C701.5,138.7 696.0,140.3 693.0,143.0 C690.0,145.7 688.4,151.1 688.0,155.7 C687.6,160.3 691.0,166.2 690.6,170.8 C690.2,175.4 687.1,179.1 685.6,183.3 C684.1,187.5 679.4,194.9 681.8,196.0 C684.2,197.1 692.0,194.3 700.0,190.0 C708.0,185.7 725.8,177.2 730.0,170.0 C734.2,162.8 727.0,150.8 725.0,147.0Z" fill="#00ffff"/>
<path d="M715.2,164.4 C714.9,165.2 714.4,165.9 713.9,166.6 C713.4,167.2 712.7,167.8 712.1,168.1 C711.4,168.5 710.6,168.8 709.9,168.9 C709.2,168.9 708.4,168.8 707.8,168.6 C707.1,168.4 706.5,167.9 706.0,167.4 C705.5,166.9 705.0,166.2 704.8,165.5 C704.5,164.8 704.4,163.9 704.4,163.1 C704.4,162.3 704.5,161.4 704.8,160.6 C705.1,159.8 705.6,159.1 706.1,158.4 C706.6,157.8 707.3,157.2 707.9,156.9 C708.6,156.5 709.4,156.2 710.1,156.1 C710.8,156.1 711.6,156.2 712.2,156.4 C712.9,156.6 713.5,157.1 714.0,157.6 C714.5,158.1 715.0,158.8 715.2,159.5 C715.5,160.2 715.6,161.1 715.6,161.9 C715.6,162.7 715.5,163.6 715.2,164.4Z" fill="#08b0ae"/>
<path d="M448.0,222.0 C450.6,221.0 457.3,222.7 462.0,224.0 C466.7,225.3 471.3,227.8 476.0,230.0 C480.7,232.2 487.2,234.8 490.0,237.0 C492.8,239.2 493.7,240.8 493.0,243.0 C492.3,245.2 487.9,247.2 486.0,250.0 C484.1,252.8 482.3,256.3 481.5,260.0 C480.7,263.7 481.8,268.0 481.0,272.0 C480.2,276.0 479.2,280.8 477.0,284.0 C474.8,287.2 471.2,290.3 468.0,291.0 C464.8,291.7 460.7,290.2 458.0,288.0 C455.3,285.8 453.8,282.3 452.0,278.0 C450.2,273.7 448.4,267.5 447.5,262.0 C446.6,256.5 446.7,250.3 446.5,245.0 C446.3,239.7 446.2,233.8 446.5,230.0 C446.8,226.2 445.4,223.0 448.0,222.0Z" fill="#c8ffff"/>
<path d="M452.0,222.0 C453.6,221.5 456.3,222.3 458.0,224.0 C459.7,225.7 461.2,229.2 462.0,232.0 C462.8,234.8 463.7,238.8 463.0,241.0 C462.3,243.2 460.2,244.7 458.0,245.0 C455.8,245.3 451.7,244.7 450.0,243.0 C448.3,241.3 448.1,237.7 447.8,235.0 C447.6,232.3 447.8,229.2 448.5,227.0 C449.2,224.8 450.4,222.5 452.0,222.0Z" fill="#ffffc8"/>
<path d="M485.0,252.0 C485.8,250.4 487.5,249.0 490.0,248.5 C492.5,248.0 496.7,248.2 500.0,249.0 C503.3,249.8 507.0,251.3 510.0,253.0 C513.0,254.7 516.3,256.7 518.0,259.0 C519.7,261.3 520.5,264.5 520.0,267.0 C519.5,269.5 517.5,272.5 515.0,274.0 C512.5,275.5 508.3,276.2 505.0,276.0 C501.7,275.8 497.8,274.7 495.0,273.0 C492.2,271.3 489.7,268.5 488.0,266.0 C486.3,263.5 485.5,260.3 485.0,258.0 C484.5,255.7 484.2,253.6 485.0,252.0Z" fill="#08b0ae"/>
<path d="M458.0,278.0 C459.3,272.7 462.3,278.0 464.0,280.0 C465.7,282.0 467.3,286.0 468.0,290.0 C468.7,294.0 468.7,300.3 468.0,304.0 C467.3,307.7 466.0,310.7 464.0,312.0 C462.0,313.3 457.0,317.7 456.0,312.0 C455.0,306.3 456.7,283.3 458.0,278.0Z" fill="#08b0ae"/>
<path d="M529.4,268.0 C528.9,264.5 532.6,260.9 535.7,259.0 C538.8,257.1 543.2,256.8 548.2,256.5 C553.2,256.2 560.8,257.9 565.8,257.5 C570.8,257.1 574.0,254.9 578.4,254.0 C582.8,253.1 587.7,247.7 592.0,252.0 C596.3,256.3 602.5,274.6 604.0,280.0 C605.5,285.4 602.1,281.9 600.9,284.3 C599.7,286.7 598.5,291.4 596.8,294.4 C595.1,297.4 593.5,300.4 590.8,302.4 C588.1,304.4 584.4,305.5 580.7,306.5 C577.0,307.5 572.4,308.9 568.7,308.5 C565.0,308.1 561.0,306.4 558.6,304.4 C556.2,302.4 556.6,299.1 554.6,296.4 C552.6,293.7 549.2,290.7 546.5,288.0 C543.8,285.3 541.4,283.3 538.5,280.0 C535.6,276.7 529.9,271.5 529.4,268.0Z" fill="#ffffc8"/>
<path d="M559.6,286.0 C559.8,283.6 560.4,280.2 562.6,278.0 C564.8,275.8 569.0,273.8 572.7,273.0 C576.4,272.2 581.4,271.8 584.7,273.0 C588.1,274.2 591.3,277.5 592.8,280.0 C594.3,282.5 594.5,285.3 593.8,288.0 C593.1,290.7 591.3,294.3 588.8,296.4 C586.3,298.5 582.1,300.1 578.7,300.4 C575.4,300.7 571.6,299.7 568.7,298.4 C565.9,297.1 563.1,294.5 561.6,292.4 C560.1,290.3 559.4,288.4 559.6,286.0Z" fill="#ffb47d"/>
<path d="M319.0,347.0 C317.3,343.6 317.8,344.3 320.6,342.8 C323.4,341.3 331.6,339.3 335.7,337.8 C339.8,336.3 342.3,333.5 345.0,334.0 C347.7,334.5 349.2,338.9 352.0,340.6 C354.8,342.3 358.7,343.6 362.0,344.0 C365.3,344.4 368.0,343.7 372.0,343.0 C376.0,342.3 382.0,341.0 386.0,340.0 C390.0,339.0 392.3,337.3 396.0,337.0 C399.7,336.7 404.4,337.4 408.0,338.0 C411.6,338.6 414.3,338.8 417.6,340.4 C420.9,342.0 425.1,344.9 428.0,347.5 C430.9,350.1 431.5,354.2 435.0,356.0 C438.5,357.8 444.6,358.8 449.0,358.5 C453.4,358.2 458.0,356.6 461.6,354.5 C465.2,352.4 467.8,348.1 470.4,345.7 C473.0,343.3 475.4,343.3 477.5,340.4 C479.6,337.4 480.9,330.6 482.7,328.0 C484.4,325.4 485.9,325.2 488.0,324.6 C490.1,324.0 492.1,326.1 495.0,324.6 C497.9,323.1 502.7,318.7 505.6,315.8 C508.6,312.9 510.4,308.2 512.7,307.0 C515.1,305.8 517.2,307.0 519.7,308.5 C522.2,310.0 525.2,313.9 527.9,316.0 C530.6,318.1 532.7,320.0 535.7,321.2 C538.8,322.4 542.2,322.3 546.2,323.2 C550.2,324.1 555.7,325.1 559.4,326.5 C563.1,327.9 566.4,329.7 568.6,331.7 C570.8,333.7 571.9,335.7 572.5,338.3 C573.1,340.9 572.7,344.4 572.5,347.5 C572.3,350.6 571.2,353.6 571.2,356.7 C571.2,359.8 571.9,362.8 572.5,365.9 C573.1,369.0 573.8,371.0 575.0,375.5 C576.2,380.0 578.7,388.1 580.0,393.0 C581.3,397.9 583.0,401.2 583.0,405.0 C583.0,408.8 581.8,413.5 580.0,416.0 C578.2,418.5 575.3,420.5 572.0,420.0 C568.7,419.5 564.0,414.5 560.0,413.0 C556.0,411.5 552.0,411.0 548.0,411.0 C544.0,411.0 540.5,413.1 536.0,413.0 C531.5,412.9 527.2,410.2 520.9,410.7 C514.6,411.1 504.7,415.7 498.0,415.7 C491.3,415.7 486.0,412.0 480.6,410.7 C475.2,409.4 471.4,406.8 465.5,408.0 C459.6,409.2 450.8,415.9 445.4,418.0 C439.9,420.1 435.4,422.5 432.8,420.8 C430.2,419.1 432.1,411.4 430.0,408.0 C427.9,404.6 424.0,402.6 420.0,400.6 C416.0,398.6 410.2,396.8 406.0,396.0 C401.8,395.2 399.2,395.2 395.0,396.0 C390.8,396.8 385.9,399.4 381.0,400.7 C376.1,401.9 371.3,403.4 365.8,403.5 C360.3,403.6 352.2,398.9 348.0,401.0 C343.8,403.1 343.7,413.3 340.7,415.8 C337.7,418.3 332.7,416.9 330.0,416.0 C327.3,415.1 325.0,412.9 324.3,410.7 C323.6,408.5 323.1,404.7 325.6,403.0 C328.1,401.3 337.3,403.6 339.4,400.7 C341.5,397.8 339.5,391.9 338.0,385.6 C336.5,379.3 333.8,369.4 330.6,363.0 C327.4,356.6 320.7,350.4 319.0,347.0Z" fill="#ffffc8"/>
<path d="M408.0,367.0 C408.0,368.4 407.7,369.9 407.2,371.2 C406.6,372.5 405.8,373.8 404.8,374.8 C403.8,375.8 402.5,376.6 401.2,377.2 C399.9,377.7 398.4,378.0 397.0,378.0 C395.6,378.0 394.1,377.7 392.8,377.2 C391.5,376.6 390.2,375.8 389.2,374.8 C388.2,373.8 387.4,372.5 386.8,371.2 C386.3,369.9 386.0,368.4 386.0,367.0 C386.0,365.6 386.3,364.1 386.8,362.8 C387.4,361.5 388.2,360.2 389.2,359.2 C390.2,358.2 391.5,357.4 392.8,356.8 C394.1,356.3 395.6,356.0 397.0,356.0 C398.4,356.0 399.9,356.3 401.2,356.8 C402.5,357.4 403.8,358.2 404.8,359.2 C405.8,360.2 406.6,361.5 407.2,362.8 C407.7,364.1 408.0,365.6 408.0,367.0Z" fill="#ffb47d"/>
<path d="M431.0,374.6 C431.3,371.4 431.7,369.8 437.4,368.0 C443.1,366.2 457.9,366.5 465.0,364.0 C472.1,361.5 476.4,355.9 480.0,353.0 C483.6,350.1 482.6,346.9 486.5,346.9 C490.4,346.9 498.7,349.5 503.6,353.0 C508.5,356.5 513.1,363.0 516.0,368.0 C518.9,373.0 521.7,378.4 521.0,383.0 C520.3,387.6 515.3,394.5 512.0,395.9 C508.7,397.3 505.6,393.4 501.4,391.6 C497.1,389.8 492.6,384.6 486.5,385.0 C480.4,385.4 471.4,391.9 465.0,393.7 C458.6,395.5 452.9,397.0 448.0,395.9 C443.1,394.8 438.2,390.6 435.4,387.0 C432.6,383.4 430.7,377.8 431.0,374.6Z" fill="#ffb47d"/>
<path d="M516.0,332.0 C517.0,328.6 523.3,326.8 529.0,326.4 C534.7,326.0 544.7,327.1 550.4,329.8 C556.1,332.5 559.8,336.9 563.0,342.6 C566.2,348.3 568.3,356.9 569.6,364.0 C570.9,371.1 572.1,379.3 571.0,385.0 C569.9,390.7 566.4,394.8 563.0,398.0 C559.6,401.2 554.6,403.3 550.4,404.0 C546.2,404.7 541.2,404.1 537.6,402.0 C534.0,399.9 531.3,395.3 529.0,391.6 C526.7,387.9 524.5,384.6 524.0,380.0 C523.5,375.4 526.2,369.5 526.0,364.0 C525.8,358.5 524.4,352.2 522.7,346.9 C521.0,341.6 515.0,335.4 516.0,332.0Z" fill="#ffb47d"/>
<path d="M557.2,385.0 C557.2,386.5 556.9,388.2 556.4,389.6 C555.9,391.0 555.1,392.4 554.1,393.5 C553.2,394.6 552.0,395.5 550.7,396.1 C549.5,396.7 548.0,397.0 546.7,397.0 C545.4,397.0 543.9,396.7 542.7,396.1 C541.4,395.5 540.2,394.6 539.3,393.5 C538.3,392.4 537.5,391.0 537.0,389.6 C536.5,388.2 536.2,386.5 536.2,385.0 C536.2,383.5 536.5,381.8 537.0,380.4 C537.5,379.0 538.3,377.6 539.3,376.5 C540.2,375.4 541.4,374.5 542.7,373.9 C543.9,373.3 545.4,373.0 546.7,373.0 C548.0,373.0 549.5,373.3 550.7,373.9 C552.0,374.5 553.2,375.4 554.1,376.5 C555.1,377.6 555.9,379.0 556.4,380.4 C556.9,381.8 557.2,383.5 557.2,385.0Z" fill="#ff8000"/>
<path d="M334.0,430.0 C335.8,425.8 333.6,438.7 333.0,445.0 C332.4,451.3 330.2,462.9 330.6,468.0 C331.1,473.1 333.2,475.8 335.7,475.6 C338.2,475.4 340.7,468.9 345.7,466.8 C350.7,464.7 361.2,464.5 365.8,463.0 C370.4,461.5 372.4,462.2 373.4,458.0 C374.4,453.8 373.3,442.6 372.0,437.9 C370.7,433.2 368.5,431.7 365.8,430.0 C363.1,428.3 358.8,428.1 355.8,427.5 C352.8,426.9 350.6,426.8 348.0,426.5 C345.4,426.2 343.7,425.1 340.0,426.0 C336.3,426.9 329.0,429.7 326.0,432.0 C323.0,434.3 322.7,433.7 322.0,440.0 C321.3,446.3 320.0,471.7 322.0,470.0 C324.0,468.3 332.2,434.2 334.0,430.0Z" fill="#ffffc8"/>
<path d="M614.0,262.0 C605.3,265.0 610.2,274.3 608.0,280.0 C605.8,285.7 603.5,290.7 601.0,296.0 C598.5,301.3 596.1,306.9 593.0,312.0 C589.9,317.1 584.5,322.0 582.3,326.6 C580.1,331.2 580.4,335.3 579.7,339.7 C579.1,344.1 578.5,347.3 578.4,352.8 C578.3,358.3 578.4,367.0 579.0,372.5 C579.6,378.0 581.1,381.7 582.3,385.6 C583.5,389.5 584.9,390.6 586.2,396.0 C587.5,401.4 588.0,412.2 590.0,418.0 C592.0,423.8 593.8,427.2 598.0,431.0 C602.2,434.8 610.5,440.0 615.5,441.0 C620.5,442.0 623.1,438.5 628.0,437.0 C632.9,435.5 637.2,434.8 645.0,432.0 C652.8,429.2 670.0,437.0 675.0,420.0 C680.0,403.0 678.3,351.7 675.0,330.0 C671.7,308.3 657.5,301.3 655.0,290.0 C652.5,278.7 666.8,266.7 660.0,262.0 C653.2,257.3 622.7,259.0 614.0,262.0Z" fill="#00ffff"/>
<path d="M620.0,264.0 C612.0,267.8 614.6,279.0 612.0,285.0 C609.4,291.0 606.8,296.0 604.5,300.0 C602.2,304.0 600.6,304.6 598.0,309.0 C595.4,313.4 591.1,321.5 588.9,326.6 C586.7,331.7 586.0,335.3 585.0,339.7 C584.0,344.1 583.2,347.3 583.0,352.8 C582.8,358.3 582.8,367.0 583.6,372.5 C584.4,378.0 586.1,381.2 587.6,385.6 C589.1,390.0 591.4,394.6 592.8,398.7 C594.2,402.8 595.0,406.3 596.0,410.0 C597.0,413.7 596.8,417.3 598.5,420.8 C600.2,424.3 602.8,428.9 606.0,430.8 C609.2,432.7 613.9,432.4 618.0,432.0 C622.1,431.6 625.6,429.1 630.6,428.3 C635.6,427.5 640.6,428.4 648.0,427.0 C655.4,425.6 670.5,436.2 675.0,420.0 C679.5,403.8 678.3,351.7 675.0,330.0 C671.7,308.3 657.5,301.3 655.0,290.0 C652.5,278.7 665.8,266.3 660.0,262.0 C654.2,257.7 628.0,260.2 620.0,264.0Z" fill="#08b0ae"/>
<path d="M624.5,272.5 C627.9,269.7 635.5,266.1 639.4,266.0 C643.3,265.9 647.6,270.1 648.0,272.0 C648.4,273.9 644.7,275.7 641.5,277.5 C638.3,279.3 632.3,280.6 628.7,283.0 C625.1,285.4 622.0,290.5 620.0,291.7 C618.0,292.9 617.2,291.4 617.0,290.0 C616.8,288.6 617.8,285.9 619.0,283.0 C620.2,280.1 621.1,275.3 624.5,272.5Z" fill="#0690ff"/>
<path d="M603.5,319.0 C603.7,317.0 604.6,313.3 606.0,313.0 C607.4,312.7 609.5,315.3 612.0,317.0 C614.5,318.7 618.5,320.2 621.0,323.0 C623.5,325.8 627.5,332.0 627.0,334.0 C626.5,336.0 620.8,335.5 618.0,335.0 C615.2,334.5 612.2,332.7 610.0,331.0 C607.8,329.3 606.1,327.0 605.0,325.0 C603.9,323.0 603.3,321.0 603.5,319.0Z" fill="#0690ff"/>
<path d="M591.6,366.7 C591.2,364.0 592.3,358.7 594.0,356.6 C595.7,354.5 599.6,353.4 601.6,354.0 C603.6,354.6 606.0,357.9 606.0,360.4 C606.0,362.9 603.2,366.9 601.6,369.0 C600.0,371.1 598.3,373.4 596.6,373.0 C594.9,372.6 592.0,369.4 591.6,366.7Z" fill="#0690ff"/>
<path d="M619.0,343.0 C620.4,341.0 623.1,340.5 625.6,341.0 C628.1,341.5 631.3,344.0 634.0,346.0 C636.7,348.0 640.0,351.0 642.0,353.0 C644.0,355.0 646.3,356.7 646.0,358.0 C645.7,359.3 641.5,359.7 640.0,361.0 C638.5,362.3 637.7,363.8 637.0,366.0 C636.3,368.2 636.5,371.5 636.0,374.0 C635.5,376.5 634.7,378.7 634.0,381.0 C633.3,383.3 632.1,385.3 632.0,388.0 C631.9,390.7 634.6,395.6 633.5,397.4 C632.4,399.2 627.8,399.1 625.6,398.7 C623.4,398.3 621.7,397.0 620.4,394.8 C619.1,392.6 618.0,388.7 617.7,385.6 C617.4,382.5 618.4,379.7 618.4,376.4 C618.4,373.1 617.9,369.9 617.7,366.0 C617.5,362.1 616.8,356.6 617.0,352.8 C617.2,349.0 617.6,345.0 619.0,343.0Z" fill="#00ffff"/>
<path d="M482.0,427.8 C484.8,425.1 488.7,425.2 493.0,424.5 C497.3,423.8 502.0,424.5 508.0,423.6 C514.0,422.7 521.9,419.4 529.0,419.0 C536.1,418.6 543.3,419.2 550.4,421.4 C557.5,423.6 566.8,428.1 571.7,432.0 C576.6,435.9 580.7,441.3 580.0,444.9 C579.3,448.5 573.8,451.3 567.5,453.4 C561.2,455.5 550.6,455.9 542.0,457.7 C533.4,459.5 523.2,461.2 516.0,464.0 C508.8,466.8 504.7,472.2 499.0,474.7 C493.3,477.2 486.6,479.7 482.0,479.0 C477.4,478.3 473.7,473.9 471.6,470.4 C469.5,466.8 468.8,462.7 469.5,457.7 C470.2,452.7 473.9,445.6 476.0,440.6 C478.1,435.6 479.2,430.5 482.0,427.8Z" fill="#00ffff"/>
<path d="M486.5,462.0 C485.8,458.8 487.2,451.9 490.8,449.0 C494.4,446.1 502.8,447.7 507.8,444.9 C512.8,442.1 515.6,435.2 520.6,432.0 C525.6,428.8 532.6,426.4 537.6,425.7 C542.6,425.0 546.7,426.4 550.4,427.8 C554.1,429.2 557.7,431.8 560.0,434.0 C562.3,436.2 564.7,438.8 564.0,441.0 C563.3,443.2 560.4,445.8 556.0,447.5 C551.6,449.2 543.5,449.7 537.6,451.0 C531.7,452.3 525.6,453.3 520.6,455.5 C515.6,457.7 512.1,461.9 507.8,464.0 C503.5,466.1 498.6,468.6 495.0,468.3 C491.4,468.0 487.2,465.2 486.5,462.0Z" fill="#08b0ae"/>
<path d="M390.6,410.8 C393.3,408.3 400.3,408.2 405.6,408.6 C410.9,409.0 418.4,410.5 422.6,413.0 C426.8,415.5 429.3,419.0 431.0,423.6 C432.7,428.2 431.6,434.9 433.0,440.6 C434.4,446.3 436.4,453.1 439.6,457.7 C442.8,462.3 448.5,464.8 452.4,468.3 C456.3,471.9 460.5,474.4 463.0,479.0 C465.5,483.6 466.2,490.3 467.3,496.0 C468.4,501.7 469.7,508.8 469.5,513.0 C469.3,517.2 467.9,520.5 466.0,521.0 C464.1,521.5 461.7,518.8 458.0,516.0 C454.3,513.2 449.2,508.2 444.0,504.5 C438.8,500.8 431.9,497.4 426.9,493.9 C421.9,490.3 418.3,487.8 414.0,483.2 C409.7,478.6 404.8,472.6 401.3,466.2 C397.8,459.8 394.8,452.0 392.8,444.9 C390.8,437.8 389.8,429.3 389.4,423.6 C389.0,417.9 387.9,413.3 390.6,410.8Z" fill="#00ffff"/>
<path d="M406.4,427.7 C407.7,425.4 411.6,425.4 414.0,426.0 C416.4,426.6 419.3,428.7 420.5,431.0 C421.7,433.3 422.1,437.8 421.0,440.0 C419.9,442.2 416.5,444.5 414.0,444.5 C411.5,444.5 407.3,442.8 406.0,440.0 C404.7,437.2 405.1,430.0 406.4,427.7Z" fill="#08b0ae"/>
<path d="M432.8,479.0 C434.1,477.2 437.5,475.3 440.4,475.5 C443.3,475.7 447.6,477.8 450.0,480.0 C452.4,482.2 454.8,486.4 454.6,489.0 C454.4,491.6 451.6,495.1 449.0,495.6 C446.4,496.1 441.7,493.5 439.0,491.9 C436.3,490.3 433.8,488.1 432.8,486.0 C431.8,483.9 431.5,480.8 432.8,479.0Z" fill="#08b0ae"/>
<path d="M306.8,411.5 C306.8,413.5 306.4,415.7 305.6,417.5 C304.8,419.4 303.6,421.2 302.1,422.6 C300.7,424.0 298.8,425.2 296.9,426.0 C295.0,426.8 292.8,427.2 290.8,427.2 C288.8,427.2 286.6,426.8 284.7,426.0 C282.8,425.2 280.9,424.0 279.5,422.6 C278.0,421.2 276.8,419.4 276.0,417.5 C275.2,415.7 274.8,413.5 274.8,411.5 C274.8,409.5 275.2,407.3 276.0,405.5 C276.8,403.6 278.0,401.8 279.5,400.4 C280.9,399.0 282.8,397.8 284.7,397.0 C286.6,396.2 288.8,395.8 290.8,395.8 C292.8,395.8 295.0,396.2 296.9,397.0 C298.8,397.8 300.7,399.0 302.1,400.4 C303.6,401.8 304.8,403.6 305.6,405.5 C306.4,407.3 306.8,409.5 306.8,411.5Z" fill="#00ffff"/>
<path d="M640.0,440.0 C634.2,435.1 630.0,438.8 625.0,440.6 C620.0,442.4 615.3,448.1 610.0,451.0 C604.7,453.9 598.0,455.9 593.0,457.7 C588.0,459.5 584.2,459.9 580.0,462.0 C575.8,464.1 570.0,466.9 567.5,470.4 C565.0,473.9 564.9,480.0 565.3,483.2 C565.6,486.4 570.6,487.5 569.6,489.6 C568.6,491.7 564.3,494.6 559.0,496.0 C553.7,497.4 543.3,497.3 537.6,498.0 C531.9,498.7 529.3,497.5 525.0,500.0 C520.7,502.5 515.9,508.0 512.0,513.0 C508.1,518.0 504.4,524.7 501.4,530.0 C498.4,535.3 494.6,538.3 494.0,545.0 C493.4,551.7 493.7,567.5 498.0,570.0 C502.3,572.5 503.0,568.3 520.0,560.0 C537.0,551.7 576.7,535.0 600.0,520.0 C623.3,505.0 653.3,483.3 660.0,470.0 C666.7,456.7 645.8,444.9 640.0,440.0Z" fill="#ffffc8"/>
<path d="M636.0,444.0 C634.2,441.8 631.9,446.0 629.0,449.0 C626.1,452.0 622.5,457.7 618.6,462.0 C614.7,466.3 609.7,470.1 605.8,474.7 C601.9,479.3 597.1,483.9 595.0,489.6 C592.9,495.3 592.2,506.1 593.0,508.8 C593.8,511.5 596.3,509.1 600.0,506.0 C603.7,502.9 608.3,497.3 615.0,490.0 C621.7,482.7 636.5,469.7 640.0,462.0 C643.5,454.3 637.8,446.2 636.0,444.0Z" fill="#ffb47d"/>
<path d="M575.0,508.0 C573.1,507.1 571.9,510.0 568.7,510.7 C565.5,511.4 560.6,511.1 556.0,512.0 C551.4,512.9 546.0,514.3 541.0,515.8 C536.0,517.3 529.5,519.1 525.9,520.8 C522.3,522.5 521.1,523.3 519.6,525.8 C518.1,528.3 516.6,532.8 517.0,536.0 C517.4,539.2 514.8,546.0 522.0,545.0 C529.2,544.0 550.3,534.8 560.0,530.0 C569.7,525.2 577.5,519.7 580.0,516.0 C582.5,512.3 576.9,508.9 575.0,508.0Z" fill="#ffb47d"/>
<path d="M447.0,526.0 C448.3,524.8 450.8,525.8 452.0,527.0 C453.2,528.2 454.3,531.2 454.0,533.0 C453.7,534.8 451.7,537.8 450.0,538.0 C448.3,538.2 444.5,536.0 444.0,534.0 C443.5,532.0 445.7,527.2 447.0,526.0Z" fill="#ffffc8"/>
<path d="M497.0,560.0 C492.7,562.5 495.0,569.0 494.0,575.0 C493.0,581.0 486.7,592.5 491.0,596.0 C495.3,599.5 515.2,602.0 520.0,596.0 C524.8,590.0 523.8,566.0 520.0,560.0 C516.2,554.0 501.3,557.5 497.0,560.0Z" fill="#ffffc8"/>
<path d="M476.0,572.0 C477.1,568.8 480.5,569.3 481.5,571.0 C482.5,572.7 482.2,578.8 482.0,582.0 C481.8,585.2 481.2,588.7 480.0,590.0 C478.8,591.3 475.7,593.0 475.0,590.0 C474.3,587.0 474.9,575.2 476.0,572.0Z" fill="#00ffff"/>
<path d="M640.0,455.0 C645.8,444.2 669.2,444.2 675.0,455.0 C680.8,465.8 680.8,509.2 675.0,520.0 C669.2,530.8 645.8,530.8 640.0,520.0 C634.2,509.2 634.2,465.8 640.0,455.0Z" fill="#ffffc8"/>
<path d="M640.0,455.0 C644.0,444.7 660.5,454.2 664.0,458.0 C667.5,461.8 662.2,472.0 661.0,478.0 C659.8,484.0 658.0,488.3 657.0,494.0 C656.0,499.7 657.8,507.7 655.0,512.0 C652.2,516.3 642.5,529.5 640.0,520.0 C637.5,510.5 636.0,465.3 640.0,455.0Z" fill="#ffb47d"/>
<path d="M640.0,455.0 C642.7,447.8 653.4,458.8 656.0,462.0 C658.6,465.2 656.2,470.0 655.5,474.0 C654.8,478.0 653.1,481.7 652.0,486.0 C650.9,490.3 651.0,496.8 649.0,500.0 C647.0,503.2 641.5,512.5 640.0,505.0 C638.5,497.5 637.3,462.2 640.0,455.0Z" fill="#ff8000"/>
</g>
<path d="M305.5,320.0 C308.9,320.7 320.6,322.7 325.6,324.0 C330.6,325.3 332.8,325.4 335.7,327.7 C338.6,330.0 340.9,335.3 343.0,337.8 C345.1,340.3 345.2,342.1 348.0,342.6 C350.8,343.1 356.7,341.9 360.0,340.6 C363.3,339.3 367.5,337.0 368.0,334.6 C368.5,332.2 364.5,328.7 363.0,326.0 C361.5,323.3 358.8,321.1 359.0,318.5 C359.2,315.9 360.5,311.9 364.0,310.4 C367.5,308.9 375.6,308.7 380.0,309.4 C384.4,310.1 386.9,314.2 390.3,314.4 C393.7,314.6 397.4,311.2 400.4,310.4 C403.4,309.6 405.7,311.1 408.4,309.4 C411.1,307.7 414.8,303.6 416.5,300.4 C418.2,297.2 416.8,292.6 418.5,290.3 C420.2,288.0 423.8,288.0 426.5,286.3 C429.2,284.6 432.2,282.2 434.6,280.2 C437.0,278.2 438.9,277.6 440.6,274.2 C442.3,270.8 443.8,264.7 444.6,260.0 C445.4,255.3 444.9,249.5 445.6,246.0 C446.3,242.5 446.5,240.9 449.0,239.0 C451.5,237.1 456.0,234.6 460.4,234.8 C464.8,235.0 469.6,238.7 475.5,240.0 C481.4,241.3 491.4,241.1 495.6,242.8 C499.8,244.5 500.8,246.6 500.6,250.4 C500.4,254.2 496.0,259.6 494.3,265.5 C492.6,271.4 491.0,278.1 490.6,285.6 C490.2,293.2 491.8,303.5 491.8,310.8 C491.8,318.1 488.3,327.1 490.6,329.6 C492.9,332.1 500.7,326.9 505.7,325.8 C510.7,324.7 515.8,323.0 520.8,323.0 C525.8,323.0 531.2,326.2 535.8,325.8 C540.4,325.4 544.2,324.2 548.4,320.8 C552.6,317.4 556.4,311.2 561.0,305.7 C565.6,300.2 571.8,293.0 576.0,288.0 C580.2,283.0 583.0,278.8 586.0,275.5 C589.0,272.2 592.4,269.2 593.7,268.0" fill="none" stroke="#2030d0" stroke-width="0.9"/>
<path d="M241.0,325.0 C243.3,325.8 248.5,330.4 255.0,330.0 C261.5,329.6 273.3,322.2 280.0,322.7 C286.7,323.2 290.3,328.6 295.4,332.8 C300.5,337.0 305.9,343.7 310.5,347.9 C315.1,352.1 319.6,355.5 323.0,358.0 C326.4,360.5 328.1,358.8 330.6,363.0 C333.1,367.2 336.3,376.0 338.0,383.0 C339.7,390.0 340.0,398.0 340.7,405.0 C341.4,412.0 340.8,418.3 342.0,425.0 C343.2,431.7 346.3,440.7 348.0,445.4 C349.7,450.1 350.7,453.0 352.0,453.0 C353.3,453.0 354.8,447.9 355.8,445.4 C356.9,442.9 357.9,436.2 358.3,437.9 C358.7,439.6 357.9,451.1 358.3,455.5 C358.7,459.9 358.3,462.8 360.8,464.0 C363.3,465.2 370.5,462.3 373.4,463.0 C376.3,463.7 375.5,468.0 378.4,468.0 C381.3,468.0 388.1,465.9 391.0,463.0 C393.9,460.1 393.9,455.1 396.0,450.4 C398.1,445.7 401.1,438.6 403.6,435.0 C406.1,431.4 407.6,430.7 411.0,429.0 C414.4,427.3 420.5,426.2 423.7,425.0 C426.9,423.8 426.5,424.2 430.0,421.7 C433.5,419.2 439.7,413.9 444.5,410.0 C449.3,406.1 454.2,401.9 459.0,398.6 C463.8,395.3 468.1,391.9 473.4,390.0 C478.7,388.1 485.4,386.1 490.7,387.0 C496.0,387.9 500.9,393.8 505.2,395.7 C509.5,397.6 512.9,396.7 516.8,398.6 C520.7,400.5 524.5,406.8 528.4,407.3 C532.3,407.8 537.1,403.4 540.0,401.5 C542.9,399.6 543.3,398.1 545.7,395.7 C548.1,393.3 551.5,387.0 554.4,387.0 C557.3,387.0 559.6,393.8 563.0,395.7 C566.4,397.6 571.2,399.1 574.6,398.6 C578.0,398.1 580.4,396.2 583.3,392.8 C586.2,389.4 589.1,382.7 592.0,378.4 C594.9,374.1 597.8,370.2 600.7,366.8 C603.6,363.4 605.1,360.0 609.4,358.0 C613.7,356.0 620.9,355.0 626.7,355.0 C632.5,355.0 641.1,357.5 644.0,358.0" fill="none" stroke="#2030d0" stroke-width="0.9"/>
<path d="M239.0,324.4 C239.7,325.8 242.8,330.4 243.0,333.0 C243.2,335.6 240.0,337.7 240.0,340.0 C240.0,342.3 242.5,345.8 243.0,347.0" fill="none" stroke="#2030d0" stroke-width="0.9"/>
<path d="M306.0,320.9 C307.7,321.1 313.1,321.4 316.0,322.0 C318.9,322.6 322.3,324.0 323.6,324.4" fill="none" stroke="#2030d0" stroke-width="0.9"/>
<path d="M84.0,289.0 L101.7,287.4 L108.7,280.4 L122.8,283.9 L140.4,283.9 L158.0,291.0 L175.7,289.2 L186.2,283.9 L203.8,285.7 L218.0,287.4 L226.7,294.5 L242.6,296.2 L246.0,285.7 L242.6,275.0 L240.8,261.0 L246.0,255.7 L267.2,254.0 L288.4,250.4 L309.5,255.7 L316.6,262.8 L323.6,268.0 L325.4,259.3 L335.0,263.0 L347.8,260.7 L360.4,270.7 L375.5,278.0 L383.0,285.8 L386.8,293.0" fill="none" stroke="#000" stroke-width="0.9" stroke-dasharray="3.5 1.6"/>
<path d="M226.7,294.5 L225.0,310.3 L226.7,324.4 L232.0,338.5 L239.0,345.6 L242.6,340.3 L255.0,350.4 L270.0,356.7 L285.0,358.0 L295.4,365.5 L305.5,373.0 L315.5,368.0 L321.8,360.4 L326.9,355.4 L321.8,347.9 L326.9,340.3 L338.0,342.8 L343.0,352.9 L353.3,359.0 L360.8,358.0 L370.9,363.0 L381.0,352.9 L388.5,350.4 L391.0,340.3 L396.0,337.8 L403.6,345.3 L411.0,344.0 L416.0,360.4 L430.0,363.0 L441.6,358.0 L450.0,364.0 L461.8,366.8 L467.6,375.5 L476.0,378.4 L487.9,381.0 L492.0,387.0" fill="none" stroke="#000" stroke-width="0.9" stroke-dasharray="3.5 1.6"/>
<path d="M270.8,252.2 L274.3,239.9 L281.3,229.3 L295.4,218.7 L316.6,211.7 L320.0,201.0" fill="none" stroke="#000" stroke-width="0.9" stroke-dasharray="3.5 1.6"/>
<path d="M330.0,200.0 L337.7,223.0 L341.5,235.5 L350.0,233.0 L363.0,231.8 L365.4,238.0 L356.6,246.9 L360.4,253.0 L373.0,260.7 L380.5,267.0 L388.0,260.7 L400.6,256.9 L410.7,258.0 L408.0,268.0 L403.0,275.8 L408.0,285.8 L418.0,287.0 L413.0,293.4" fill="none" stroke="#000" stroke-width="0.9" stroke-dasharray="3.5 1.6"/>
<path d="M386.8,293.0 L395.0,300.0 L404.0,306.0 L395.0,313.0 L390.0,324.0 L383.0,331.0 L381.0,341.5 L386.0,352.0" fill="none" stroke="#000" stroke-width="0.9" stroke-dasharray="3.5 1.6"/>
<path d="M452.0,280.8 L461.0,285.8 L471.0,275.8 L481.0,260.7 L491.0,255.6" fill="none" stroke="#000" stroke-width="0.9" stroke-dasharray="3.5 1.6"/>
<path d="M435.7,260.4 L439.0,271.0 L446.0,278.0 L442.7,292.0 L451.5,294.0 L462.0,302.7 L465.6,309.8 L453.0,313.0 L442.7,306.0 L441.0,298.0 L436.0,290.0 L430.0,282.0 L424.0,286.0" fill="none" stroke="#000" stroke-width="0.9" stroke-dasharray="3.5 1.6"/>
<path d="M447.4,291.6 L441.6,303.0 L444.5,314.7 L440.0,326.3 L441.6,337.9 L443.0,349.4 L430.0,352.0" fill="none" stroke="#000" stroke-width="0.9" stroke-dasharray="3.5 1.6"/>
<path d="M492.0,253.4 L502.6,246.4 L513.0,239.0 L527.0,235.8 L532.5,225.0 L537.8,218.0 L541.0,211.0 L555.4,214.7 L562.5,207.6 L576.6,200.6 L590.7,204.0 L597.7,218.0 L598.0,226.0" fill="none" stroke="#000" stroke-width="0.9" stroke-dasharray="3.5 1.6"/>
<path d="M532.5,225.0 L530.8,242.8 L534.3,257.0 L527.0,271.0 L532.5,281.6 L530.8,295.7 L534.0,302.0 L529.8,309.0 L525.5,314.7 L511.0,323.4" fill="none" stroke="#000" stroke-width="0.9" stroke-dasharray="3.5 1.6"/>
<path d="M534.0,294.5 L545.7,297.4 L554.4,303.0 L557.3,297.4 L566.0,294.5 L571.7,285.8 L583.3,280.0 L590.0,272.0" fill="none" stroke="#000" stroke-width="0.9" stroke-dasharray="3.5 1.6"/>
<path d="M583.0,34.0 L593.6,40.5 L606.4,46.9 L619.0,42.6 L629.8,40.5 L634.0,55.4 L634.0,72.5 L629.8,89.5 L621.3,102.3 L612.8,113.0 L619.0,123.6 L610.7,136.4 L612.8,153.5 L619.0,166.0 L627.7,170.5 L638.4,174.8 L649.0,172.6 L657.5,183.0 L666.0,200.0 L670.0,204.0" fill="none" stroke="#000" stroke-width="0.9" stroke-dasharray="3.5 1.6"/>
<path d="M619.0,123.6 L632.0,132.0 L649.0,136.4 L657.5,132.0 L666.0,138.5 L674.6,147.0 L687.4,151.0 L700.0,147.0 L713.0,151.0" fill="none" stroke="#000" stroke-width="0.9" stroke-dasharray="3.5 1.6"/>
<path d="M627.7,170.5 L615.0,183.0 L598.0,196.0 L589.0,204.6 L591.5,217.0 L598.0,226.0 L601.0,233.0" fill="none" stroke="#000" stroke-width="0.9" stroke-dasharray="3.5 1.6"/>
<path d="M492.0,332.0 L498.0,340.7 L502.0,355.0 L514.0,364.0 L525.5,365.0 L535.6,364.0 L540.0,369.7 L551.5,374.0 L560.0,375.5 L566.0,369.7 L567.4,364.0 L564.5,352.0 L557.0,349.4 L560.0,337.9 L568.8,333.5 L574.6,327.7 L568.8,323.4 L571.7,319.0 L580.4,322.0 L587.6,326.3 L592.0,323.4 L603.6,317.6 L609.4,311.8" fill="none" stroke="#000" stroke-width="0.9" stroke-dasharray="3.5 1.6"/>
<path d="M587.6,326.3 L589.0,337.9 L595.0,346.5 L600.7,352.3 L606.5,363.9 L615.0,369.7 L621.0,375.5 L629.6,372.6 L638.3,369.7 L644.0,365.3" fill="none" stroke="#000" stroke-width="0.9" stroke-dasharray="3.5 1.6"/>
<path d="M621.0,375.5 L615.0,387.0 L606.5,392.8 L603.6,401.5 L609.4,410.0 L610.8,421.7 L603.6,427.5 L597.8,436.0 L592.0,442.0 L587.6,455.0 L584.0,465.0 L580.0,473.0 L571.0,475.5 L561.0,480.5 L553.6,475.5 L541.0,473.0 L528.4,480.5 L520.9,488.0 L510.8,480.5 L515.8,468.0 L508.3,460.4 L500.8,465.4 L488.0,468.0 L480.6,473.0 L468.0,478.0 L455.5,475.5 L445.4,483.0 L435.3,488.0 L425.3,483.0 L417.7,488.0 L420.0,495.6 L430.0,500.7 L437.9,508.2" fill="none" stroke="#000" stroke-width="0.9" stroke-dasharray="3.5 1.6"/>
<path d="M610.8,421.7 L621.0,424.6 L632.5,430.4 L638.3,436.2" fill="none" stroke="#000" stroke-width="0.9" stroke-dasharray="3.5 1.6"/>
<path d="M567.4,364.0 L571.7,375.5 L571.7,387.0 L580.4,394.3 L589.0,392.8 L603.6,401.5" fill="none" stroke="#000" stroke-width="0.9" stroke-dasharray="3.5 1.6"/>
<path d="M571.7,398.6 L560.0,401.5 L551.5,407.3 L542.8,410.0 L528.4,407.3 L519.7,404.4 L508.0,407.3 L496.5,404.4 L482.0,401.5 L470.5,407.3 L467.6,416.0 L456.0,418.9 L453.0,424.6 L441.6,421.7 L435.8,427.5 L430.0,425.0" fill="none" stroke="#000" stroke-width="0.9" stroke-dasharray="3.5 1.6"/>
<path d="M545.7,413.0 L548.6,424.6 L544.3,436.0 L548.6,447.8 L546.0,458.0 L553.6,475.5" fill="none" stroke="#000" stroke-width="0.9" stroke-dasharray="3.5 1.6"/>
<path d="M482.0,355.0 L485.0,366.8 L490.7,378.4 L487.9,387.0 L482.0,395.7 L470.5,398.6 L470.5,407.3" fill="none" stroke="#000" stroke-width="0.9" stroke-dasharray="3.5 1.6"/>
<path d="M467.6,416.0 L479.0,418.9 L482.0,430.4 L483.5,442.0 L480.6,455.0 L488.0,468.0" fill="none" stroke="#000" stroke-width="0.9" stroke-dasharray="3.5 1.6"/>
<path d="M520.9,488.0 L524.7,495.6 L518.4,505.7 L510.8,518.3 L503.3,528.3 L498.2,538.4" fill="none" stroke="#000" stroke-width="0.9" stroke-dasharray="3.5 1.6"/>
<path d="M453.0,417.6 L437.9,420.0 L432.8,427.7 L440.4,432.7 L432.8,440.3 L422.8,442.8 L412.7,437.8 L405.0,442.8 L402.6,452.9 L410.0,457.9 L412.7,470.5 L417.7,480.5 L417.7,488.0" fill="none" stroke="#000" stroke-width="0.9" stroke-dasharray="3.5 1.6"/>
<path d="M326.9,355.4 L335.7,373.0 L340.7,390.6 L340.7,410.8 L338.0,423.3 L342.0,441.0" fill="none" stroke="#000" stroke-width="0.9" stroke-dasharray="3.5 1.6"/>
<path d="M333.0,415.0 L340.7,422.8 L348.0,425.3 L353.3,434.0 L360.8,440.4 L367.0,453.0 L373.4,460.5 L378.4,468.0 L391.0,463.0 L396.0,450.4 L403.6,447.9 L405.0,442.8" fill="none" stroke="#000" stroke-width="0.9" stroke-dasharray="3.5 1.6"/>
<path d="M492.0,253.4 L492.0,280.0 L490.7,309.0 L492.0,332.0" fill="none" stroke="#000" stroke-width="0.9" stroke-dasharray="3.5 1.6"/>
<path d="M549.5,232.9 L555.8,224.0 L562.0,222.8 L568.4,227.9 L567.0,235.4 L572.0,237.9 L570.9,245.5 L565.8,248.0 L558.3,245.5 L550.8,243.0 L548.2,237.9 L549.5,232.9" fill="none" stroke="#000" stroke-width="0.9" stroke-dasharray="3.5 1.6"/>
<path d="M572.0,237.9 L578.4,243.0 L578.4,250.5 L574.7,258.0 L570.9,260.6 L568.4,253.0 L570.9,245.5" fill="none" stroke="#000" stroke-width="0.9" stroke-dasharray="3.5 1.6"/>
<path d="M500.8,561.4 L497.0,566.0" fill="none" stroke="#000" stroke-width="0.9" stroke-dasharray="3.5 1.6"/>
<path d="M44.0,197.0 L52.8,187.0 L66.7,183.3 L76.7,188.8 L84.3,188.8 L91.8,183.3 L105.7,180.3 L130.8,177.0 L137.0,172.0 L137.9,167.0 L145.4,160.0 L143.9,135.0 L145.9,131.7 L163.5,131.2 L171.0,135.5 L172.3,126.7 L186.2,106.0 L191.2,110.3 L210.4,113.3 L215.9,107.8 L218.4,94.0 L228.0,91.4 L231.8,84.7 L240.6,84.7 L242.6,91.4 L255.7,105.3 L264.5,115.3 L268.2,127.9 L263.2,149.3 L270.8,155.6 L285.8,158.6 L295.9,163.1 L307.2,170.7 L316.0,185.8 L318.6,195.8 L323.9,199.0 L350.3,203.3 L383.0,206.6 L400.6,214.2 L410.7,219.2 L425.8,219.9 L435.8,214.9 L450.9,209.1 L473.6,206.6 L484.0,200.6 L490.3,193.1 L500.3,185.5 L495.3,175.5 L502.8,164.2 L520.4,167.4 L530.5,159.1 L545.6,150.3 L549.4,141.5 L553.1,137.7 L560.7,135.5 L568.2,131.4 L582.0,129.8 L585.4,125.2 L580.6,119.5 L570.3,110.0 L559.4,112.5 L548.0,117.0 L541.4,119.5 L535.1,110.7 L539.3,100.0 L543.9,86.8 L559.0,80.5 L567.8,78.0 L570.3,70.4 L575.3,45.3 L579.1,39.0 L571.6,32.7 L579.1,23.9 L587.9,17.6 L601.8,12.1 L623.1,15.6 L630.7,21.4 L640.8,37.7 L650.8,54.1 L658.4,65.4 L671.0,62.9 L683.5,66.7 L693.6,78.0 L698.6,84.3 L713.2,84.0 L720.8,75.2 L735.9,65.1 L737.9,73.9 L734.6,87.7 L735.9,105.3 L725.8,116.7 L713.2,131.8 L712.0,136.8 L718.3,145.6 L720.8,153.1 L718.3,160.7 L719.5,168.2 L713.2,164.5 L705.7,173.3 L695.6,180.8 L691.9,190.9 L682.0,191.3 L675.8,193.8 L673.3,201.4 L665.8,207.7 L658.2,217.7 L654.5,225.3 L645.7,227.8 L635.6,234.0 L626.8,239.0 L624.3,248.0 L619.2,249.2 L622.0,243.0 L620.5,239.0 L621.8,232.8 L628.0,224.0 L623.0,214.0 L614.2,217.7 L607.9,227.8 L596.6,239.0 L594.0,246.7 L580.3,251.7 L577.2,259.2 L581.5,266.8 L592.8,268.0 L596.6,276.9 L602.9,279.4 L607.9,271.8 L615.5,266.8 L625.5,269.3 L633.0,270.6 L638.1,266.8 L641.9,270.6 L639.4,276.9 L628.0,280.6 L620.5,285.7 L613.0,295.7 L606.7,305.8 L607.9,315.8 L620.5,323.9 L626.8,334.0 L633.0,345.3 L640.6,351.6 L648.2,357.9 L638.0,359.0 L645.7,365.4 L650.7,371.7 L640.6,376.7 L638.0,380.5 L648.0,383.0 L655.7,395.6 L652.0,398.0 L653.5,410.0 L646.0,417.6 L642.0,429.0 L635.8,435.0 L633.0,445.0 L630.8,454.0 L632.0,461.6 L623.0,469.0 L619.5,475.5 L612.0,481.8 L604.4,486.8 L599.4,495.6 L593.0,505.7 L583.0,510.7 L570.4,513.0 L564.0,519.5 L555.0,518.0 L551.6,515.7 L548.6,526.0 L537.7,530.8 L525.0,533.0 L515.0,538.0 L508.3,542.5 L502.0,547.6 L500.8,553.9 L504.5,557.6 L500.8,561.4 L497.0,556.4 L494.5,547.6 L497.0,541.3 L490.7,537.5 L485.7,541.3 L479.4,536.2 L474.3,538.8 L468.0,540.0 L458.0,537.5 L449.2,532.5 L445.4,526.2 L446.9,519.0 L437.8,517.0 L438.8,509.0 L434.8,510.0 L421.7,514.0 L419.7,518.0 L411.7,520.0 L406.6,524.0 L398.6,520.0 L392.6,524.7 L385.5,521.0 L380.5,525.0 L373.4,526.7 L372.4,532.0 L373.4,544.0 L370.4,546.0 L365.0,544.0 L364.0,538.0 L348.0,537.0 L344.0,531.0 L336.0,527.0 L337.0,520.0 L340.0,516.0 L329.0,506.0 L330.0,499.0 L326.0,496.0 L312.0,498.0 L314.0,490.0 L315.0,480.0 L320.6,478.0 L330.6,468.0 L333.0,445.4 L326.9,431.6 L318.0,425.3 L310.5,436.6 L300.4,427.8 L287.9,427.8 L270.0,436.6 L255.0,444.0 L237.5,440.4 L232.4,426.6 L222.4,421.6 L210.3,416.6 L195.0,427.6 L192.0,416.6 L178.0,417.6 L168.0,412.6 L160.7,412.0 L155.7,409.5 L145.6,400.7 L135.5,390.6 L125.5,381.8 L115.4,369.2 L107.9,360.4 L101.6,364.2 L95.3,357.9 L82.7,342.8 L75.0,341.6 L71.4,332.8 L73.9,316.4 L84.0,315.0 L82.7,305.0 L85.2,290.0 L81.6,285.7 L80.0,271.8 L70.0,263.0 L60.0,255.5 L57.7,240.4 L46.4,232.8 L53.9,230.0 L55.0,210.0 L46.4,207.7Z" fill="none" stroke="#000" stroke-width="1.7" stroke-linejoin="round"/>
<path d="M661.0,461.6 L666.0,465.0 L666.0,483.0 L663.5,500.6 L659.7,514.5 L651.0,505.7 L646.0,493.0 L648.4,478.0 L653.5,468.0Z" fill="none" stroke="#000" stroke-width="1.7" stroke-linejoin="round"/>
<path d="M488.0,566.4 L500.8,564.0 L508.3,565.0 L512.0,571.5 L508.3,582.8 L498.2,592.8 L488.0,592.8 L480.6,587.8 L478.0,577.8 L482.0,571.5Z" fill="none" stroke="#000" stroke-width="1.7" stroke-linejoin="round"/>
<path d="M664.8,529.6 L676.0,513.2" stroke="#000" stroke-width="1.2"/>
<path d="M689.5,447.0 L690.5,444.0" stroke="#000" stroke-width="1.2"/>
<rect x="223.3" y="168.9" width="3" height="3" fill="#fff" stroke="#000" stroke-width="0.9"/>
<text transform="translate(216.0,166.0) scale(0.9,1.12)" class="city">乌鲁木齐</text>
<rect x="501.3" y="230.5" width="3" height="3" fill="#fff" stroke="#000" stroke-width="0.9"/>
<text transform="translate(491.0,227.0) scale(0.9,1.12)" class="city">呼和浩特</text>
<rect x="556.5" y="239.5" width="3" height="3" fill="#fff" stroke="#000" stroke-width="0.9"/>
<text transform="translate(549.0,237.0) scale(0.9,1.12)" class="city">北京</text>
<rect x="569.0" y="247.5" width="3" height="3" fill="#fff" stroke="#000" stroke-width="0.9"/>
<text transform="translate(562.0,248.0) scale(0.9,1.12)" class="city">天津</text>
<rect x="637.2" y="198.5" width="3" height="3" fill="#fff" stroke="#000" stroke-width="0.9"/>
<text transform="translate(626.5,197.0) scale(0.9,1.12)" class="city">沈阳</text>
<rect x="650.5" y="160.5" width="3" height="3" fill="#fff" stroke="#000" stroke-width="0.9"/>
<text transform="translate(642.5,158.0) scale(0.9,1.12)" class="city">长春</text>
<rect x="660.5" y="127.5" width="3" height="3" fill="#fff" stroke="#000" stroke-width="0.9"/>
<text transform="translate(652.0,125.0) scale(0.9,1.12)" class="city">哈尔滨</text>
<rect x="538.1" y="271.5" width="3" height="3" fill="#fff" stroke="#000" stroke-width="0.9"/>
<text transform="translate(528.0,269.0) scale(0.9,1.12)" class="city">石家庄</text>
<rect x="515.0" y="277.1" width="3" height="3" fill="#fff" stroke="#000" stroke-width="0.9"/>
<text transform="translate(506.5,275.5) scale(0.9,1.12)" class="city">太原</text>
<rect x="436.2" y="270.3" width="3" height="3" fill="#fff" stroke="#000" stroke-width="0.9"/>
<text transform="translate(441.5,280.5) scale(0.9,1.12)" class="city">银川</text>
<rect x="572.1" y="289.1" width="3" height="3" fill="#fff" stroke="#000" stroke-width="0.9"/>
<text transform="translate(577.0,298.0) scale(0.9,1.12)" class="city">济南</text>
<rect x="533.1" y="324.3" width="3" height="3" fill="#fff" stroke="#000" stroke-width="0.9"/>
<text transform="translate(538.0,333.0) scale(0.9,1.12)" class="city">郑州</text>
<rect x="471.5" y="335.0" width="3" height="3" fill="#fff" stroke="#000" stroke-width="0.9"/>
<text transform="translate(463.0,333.0) scale(0.9,1.12)" class="city">西安</text>
<rect x="407.3" y="308.5" width="3" height="3" fill="#fff" stroke="#000" stroke-width="0.9"/>
<text transform="translate(399.5,305.0) scale(0.9,1.12)" class="city">兰州</text>
<rect x="380.2" y="298.7" width="3" height="3" fill="#fff" stroke="#000" stroke-width="0.9"/>
<text transform="translate(371.5,297.0) scale(0.9,1.12)" class="city">西宁</text>
<rect x="230.1" y="395.5" width="3" height="3" fill="#fff" stroke="#000" stroke-width="0.9"/>
<text transform="translate(222.0,393.0) scale(0.9,1.12)" class="city">拉萨</text>
<rect x="408.2" y="393.5" width="3" height="3" fill="#fff" stroke="#000" stroke-width="0.9"/>
<text transform="translate(399.0,392.0) scale(0.9,1.12)" class="city">成都</text>
<rect x="440.5" y="410.5" width="3" height="3" fill="#fff" stroke="#000" stroke-width="0.9"/>
<text transform="translate(430.0,408.0) scale(0.9,1.12)" class="city">重庆</text>
<rect x="544.5" y="388.0" width="3" height="3" fill="#fff" stroke="#000" stroke-width="0.9"/>
<text transform="translate(535.5,387.0) scale(0.9,1.12)" class="city">武汉</text>
<rect x="534.5" y="428.1" width="3" height="3" fill="#fff" stroke="#000" stroke-width="0.9"/>
<text transform="translate(524.5,426.0) scale(0.9,1.12)" class="city">长沙</text>
<rect x="573.3" y="417.0" width="3" height="3" fill="#fff" stroke="#000" stroke-width="0.9"/>
<text transform="translate(564.0,415.5) scale(0.9,1.12)" class="city">南昌</text>
<rect x="446.3" y="458.0" width="3" height="3" fill="#fff" stroke="#000" stroke-width="0.9"/>
<text transform="translate(435.5,456.0) scale(0.9,1.12)" class="city">贵阳</text>
<rect x="387.0" y="483.5" width="3" height="3" fill="#fff" stroke="#000" stroke-width="0.9"/>
<text transform="translate(378.0,480.5) scale(0.9,1.12)" class="city">昆明</text>
<rect x="470.3" y="518.5" width="3" height="3" fill="#fff" stroke="#000" stroke-width="0.9"/>
<text transform="translate(461.8,516.0) scale(0.9,1.12)" class="city">南宁</text>
<rect x="542.0" y="510.5" width="3" height="3" fill="#fff" stroke="#000" stroke-width="0.9"/>
<text transform="translate(531.0,508.5) scale(0.9,1.12)" class="city">广州</text>
<text transform="translate(528.0,535.0) scale(0.9,1.12)" class="city">澳门</text>
<rect x="558.5" y="521.0" width="3" height="3" fill="#fff" stroke="#000" stroke-width="0.9"/>
<text transform="translate(564.5,530.0) scale(0.9,1.12)" class="city">香港</text>
<text transform="translate(510.5,571.5) scale(0.9,1.12)" class="city">海口</text>
<rect x="626.0" y="451.3" width="3" height="3" fill="#fff" stroke="#000" stroke-width="0.9"/>
<text transform="translate(615.5,450.0) scale(0.9,1.12)" class="city">福州</text>
<rect x="660.3" y="462.5" width="3" height="3" fill="#fff" stroke="#000" stroke-width="0.9"/>
<text transform="translate(649.5,461.0) scale(0.9,1.12)" class="city">台北</text>
<rect x="627.5" y="384.5" width="3" height="3" fill="#fff" stroke="#000" stroke-width="0.9"/>
<text transform="translate(633.0,392.0) scale(0.9,1.12)" class="city">杭州</text>
<rect x="642.9" y="365.9" width="3" height="3" fill="#fff" stroke="#000" stroke-width="0.9"/>
<text transform="translate(649.5,374.0) scale(0.9,1.12)" class="city">上海</text>
<rect x="605.9" y="358.9" width="3" height="3" fill="#fff" stroke="#000" stroke-width="0.9"/>
<text transform="translate(596.5,356.5) scale(0.9,1.12)" class="city">南京</text>
<rect x="585.0" y="364.5" width="3" height="3" fill="#fff" stroke="#000" stroke-width="0.9"/>
<text transform="translate(575.0,363.0) scale(0.9,1.12)" class="city">合肥</text>
<path d="M1.5,0.5 H794 V607.2 H1.5 Z" fill="none" stroke="#000" stroke-width="1.2"/>
<rect x="8" y="0" width="22" height="2" fill="#a00"/><rect x="36" y="0" width="25" height="2" fill="#a00"/><rect x="48" y="0" width="0" height="0"/><rect x="66" y="0" width="11" height="2" fill="#a00"/>
<rect x="213.4" y="3.5" width="345" height="79.5" fill="#fff" stroke="#000" stroke-width="1"/>
<text x="243.5" y="36.5" class="t1" textLength="190" lengthAdjust="spacingAndGlyphs">全国降水量距平百分率图</text>
<text y="36" class="t1"><tspan x="437.5" style="font-size:19px;font-weight:400">(</tspan><tspan x="445" y="36.5" textLength="34.5" lengthAdjust="spacingAndGlyphs">单位</tspan><tspan x="480.7" y="35.5" style="font-size:15px;font-weight:400"> : </tspan><tspan x="494.5" y="36" style="font-size:15.5px;font-weight:400">%</tspan><tspan x="512.5" y="36" style="font-size:19px;font-weight:400">)</tspan></text>
<text x="239" y="64" class="t2" textLength="242" lengthAdjust="spacing">20070825--20070926</text>
<rect x="4" y="403" width="148" height="200.3" fill="#fff" stroke="#000" stroke-width="1"/>
<text x="48" y="424.5" style="font-size:17px;font-weight:900">图</text><text x="95.5" y="424.5" style="font-size:17px;font-weight:900">例</text>
<rect x="13" y="434.3" width="41" height="15.1" fill="#0000ee"/>
<text transform="translate(0,448.7) scale(0.6,1)" class="lg"><tspan x="165.8" text-anchor="middle">&gt;</tspan><tspan x="180.0" text-anchor="start"> 200</tspan></text>
<rect x="13" y="451.7" width="41" height="15.1" fill="#0690ff"/>
<text transform="translate(0,466.1) scale(0.6,1)" class="lg"><tspan x="151.7" text-anchor="end">100 </tspan><tspan x="165.8" text-anchor="middle">~</tspan><tspan x="180.0" text-anchor="start"> 200</tspan></text>
<rect x="13" y="469.1" width="41" height="15.1" fill="#08b0ae"/>
<text transform="translate(0,483.5) scale(0.6,1)" class="lg"><tspan x="151.7" text-anchor="end">50 </tspan><tspan x="165.8" text-anchor="middle">~</tspan><tspan x="180.0" text-anchor="start"> 100</tspan></text>
<rect x="13" y="486.5" width="41" height="15.1" fill="#00ffff"/>
<text transform="translate(0,500.9) scale(0.6,1)" class="lg"><tspan x="151.7" text-anchor="end">25 </tspan><tspan x="165.8" text-anchor="middle">~</tspan><tspan x="180.0" text-anchor="start"> 50</tspan></text>
<rect x="13" y="503.9" width="41" height="15.1" fill="#c8ffff"/>
<text transform="translate(0,518.3) scale(0.6,1)" class="lg"><tspan x="151.7" text-anchor="end">0 </tspan><tspan x="165.8" text-anchor="middle">~</tspan><tspan x="180.0" text-anchor="start"> 25</tspan></text>
<rect x="13" y="521.3" width="41" height="15.1" fill="#ffffc8"/>
<text transform="translate(0,535.7) scale(0.6,1)" class="lg"><tspan x="151.7" text-anchor="end">−25 </tspan><tspan x="165.8" text-anchor="middle">~</tspan><tspan x="180.0" text-anchor="start"> 0</tspan></text>
<rect x="13" y="538.7" width="41" height="15.1" fill="#ffb47d"/>
<text transform="translate(0,553.1) scale(0.6,1)" class="lg"><tspan x="151.7" text-anchor="end">−50 </tspan><tspan x="165.8" text-anchor="middle">~</tspan><tspan x="180.0" text-anchor="start"> −25</tspan></text>
<rect x="13" y="556.1" width="41" height="15.1" fill="#ff8000"/>
<text transform="translate(0,570.5) scale(0.6,1)" class="lg"><tspan x="151.7" text-anchor="end">−80 </tspan><tspan x="165.8" text-anchor="middle">~</tspan><tspan x="180.0" text-anchor="start"> −50</tspan></text>
<rect x="13" y="573.5" width="41" height="15.1" fill="#ff0000"/>
<text transform="translate(0,587.9) scale(0.6,1)" class="lg"><tspan x="165.8" text-anchor="middle">&lt;</tspan><tspan x="215.0" text-anchor="end"> −80</tspan></text>
<text x="48" y="601" style="font-size:10px;font-weight:900;font-family:'Liberation Sans','Noto Sans CJK SC',sans-serif">空白处无资料</text>
<text x="177.5" y="580" class="org" textLength="78">中国气象局</text>
<text x="177.5" y="599.8" class="org" textLength="94">国家气候中心</text>
<rect x="680.3" y="456" width="113.7" height="151" fill="#fff" stroke="#000" stroke-width="1.4"/>
<path d="M680.8,457.9 L690.7,460.5 L693.0,465.7 L701.0,467.0 L709.0,468.0 L714.0,471.0 L719.5,468.0 L730.0,464.0 L737.9,461.8 L751.0,459.0 L758.8,456.5" fill="none" stroke="#000" stroke-width="0.9"/>
<path d="M701.0,467.0 L690.7,473.6 L684.0,484.0 L690.7,494.5 L701.0,502.4 L707.7,512.9 L709.0,528.6 L703.8,535.0 L693.0,540.0 L688.0,547.0 L681.5,549.6" fill="none" stroke="#000" stroke-width="0.9"/>
<path d="M706.0,604.6 L707.7,596.7 L714.0,594.0 L722.0,595.0 L726.0,589.0 L735.0,582.0 L743.0,575.8 L753.6,570.5 L760.0,562.6 L766.7,568.0 L774.5,575.8 L768.0,578.0 L766.7,585.0" fill="none" stroke="#000" stroke-width="0.9"/>
<path d="M785.0,488.0 L793.0,489.0" fill="none" stroke="#000" stroke-width="0.9"/>
<path d="M785.0,488.0 L782.4,493.0 L783.7,501.0 L779.8,507.6 L785.0,515.5 L789.0,519.4 L791.6,526.0 L787.6,528.6 L783.7,523.0 L785.0,516.0" fill="none" stroke="#000" stroke-width="0.9"/>
<path d="M781.0,457.9 L785.0,463.0 L791.6,457.9" fill="none" stroke="#000" stroke-width="0.9"/>
<path d="M701.0,499.7 L706.0,506.0" fill="none" stroke="#000" stroke-width="0.9"/>
<path d="M707.7,531.0 L710.3,537.7" fill="none" stroke="#000" stroke-width="0.9"/>
<path d="M696.5,562.0 L696.5,569.0" fill="none" stroke="#000" stroke-width="0.9"/>
<path d="M722.0,585.0 L730.0,583.6" fill="none" stroke="#000" stroke-width="0.9"/>
<path d="M748.0,562.6 L753.6,556.0" fill="none" stroke="#000" stroke-width="0.9"/>
<path d="M764.0,551.0 L777.0,539.0" fill="none" stroke="#000" stroke-width="0.9"/>
<path d="M762.5,549.0 L775.5,537.5" fill="none" stroke="#000" stroke-width="0.9"/>
<path d="M770.6,531.0 L772.0,536.5" fill="none" stroke="#000" stroke-width="0.9"/>
<path d="M774.5,506.0 L776.0,513.0" fill="none" stroke="#000" stroke-width="0.9"/>
<path d="M778.5,486.7 L781.0,493.0" fill="none" stroke="#000" stroke-width="0.9"/>
<path d="M786.0,472.0 L791.6,467.0" fill="none" stroke="#000" stroke-width="0.9"/>
<ellipse cx="711" cy="483.5" rx="7.3" ry="4.6" transform="rotate(-25 711 483.5)" fill="none" stroke="#000" stroke-width="0.9"/>
<rect x="758.0" y="472.8" width="1.6" height="1.6" fill="#000"/>
<rect x="728.2" y="496.9" width="1.6" height="1.6" fill="#000"/>
<rect x="742.2" y="538.8" width="1.6" height="1.6" fill="#000"/>
<rect x="736.5" y="586.5" width="57.5" height="20.5" fill="#fff" stroke="#000" stroke-width="1"/>
<text x="744" y="600.5" style="font-size:9.8px;font-weight:900;font-family:'Liberation Sans','Noto Sans CJK SC',sans-serif">南海诸岛</text>
</svg>
</body></html>
